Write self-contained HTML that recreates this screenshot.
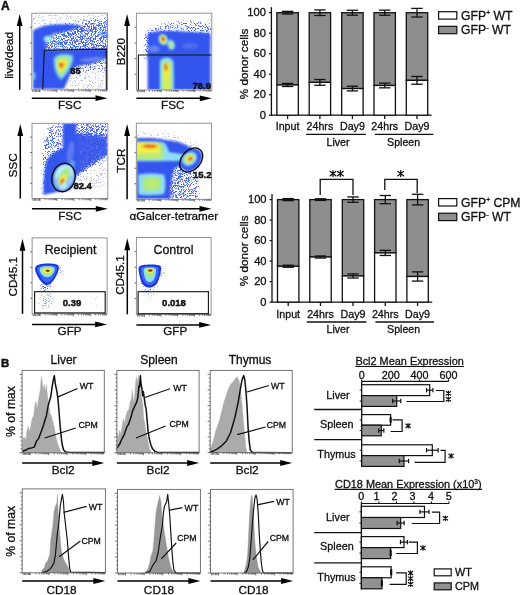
<!DOCTYPE html>
<html><head><meta charset="utf-8"><style>
html,body{margin:0;padding:0;background:#fff;}
body{width:520px;height:595px;overflow:hidden;}
svg{display:block;font-family:"Liberation Sans", sans-serif;will-change:transform;}
text{stroke:#111;stroke-width:0.3px;}
</style></head><body>
<svg width="520" height="595" viewBox="0 0 520 595">
<defs>
<filter id="bl1" x="-20%" y="-20%" width="140%" height="140%"><feGaussianBlur stdDeviation="0.9"/></filter>
<filter id="bl05" x="-20%" y="-20%" width="140%" height="140%"><feGaussianBlur stdDeviation="0.6"/></filter>
<filter id="bl2" x="-20%" y="-20%" width="140%" height="140%"><feGaussianBlur stdDeviation="1.3"/></filter>
<filter id="spk" x="0" y="0" width="520" height="595" filterUnits="userSpaceOnUse" color-interpolation-filters="sRGB">
 <feGaussianBlur in="SourceAlpha" stdDeviation="1.6" result="sa"/>
 <feTurbulence type="fractalNoise" baseFrequency="1.4" numOctaves="1" seed="7" result="t"/>
 <feColorMatrix in="t" type="matrix" values="0 0 0 0 0  0 0 0 0 0  0 0 0 0 0  3.5 0 0 0 -1.25" result="ta"/>
 <feComposite in="ta" in2="sa" operator="arithmetic" k1="0" k2="-4" k3="4" k4="0" result="m"/>
 <feFlood flood-color="#4a68ec"/>
 <feComposite in2="m" operator="in"/>
 <feGaussianBlur stdDeviation="0.45"/>
</filter>
<clipPath id="c1"><rect x="32.3" y="13.7" width="74.7" height="75.6"/></clipPath><clipPath id="c2"><rect x="136.9" y="13.7" width="74.4" height="75.8"/></clipPath><clipPath id="c3"><rect x="32.5" y="123.8" width="74.8" height="74.3"/></clipPath><clipPath id="c4"><rect x="136.8" y="123.7" width="74.19999999999999" height="75.10000000000001"/></clipPath><clipPath id="c5"><rect x="32.6" y="238.4" width="74.0" height="74.9"/></clipPath><clipPath id="c6"><rect x="136.9" y="238.0" width="73.69999999999999" height="75.80000000000001"/></clipPath>
</defs>
<rect width="520" height="595" fill="#fff"/>
<text x="1" y="9.8" font-size="12" text-anchor="start" font-weight="bold" style="stroke-width:0.45px" fill="#111">A</text>
<text x="1" y="366.9" font-size="11.5" text-anchor="start" font-weight="bold" style="stroke-width:0.45px" fill="#111">B</text>
<g clip-path="url(#c1)">
<g filter="url(#spk)"><path d="M32,14 L108,14 L108,52 L32,52 Z" fill="#000" fill-opacity="0.1"/><path d="M40,30 C55,24 80,20 108,19 L108,52 L40,52 Z" fill="#000" fill-opacity="0.3"/><path d="M44,40 C60,35 85,30 108,28 L108,52 L44,52 Z" fill="#000" fill-opacity="0.3"/><path d="M45,36 C60,30 75,27 90,26 L92,30 C78,31 62,34 47,40 Z" fill="#000" fill-opacity="0.4"/><path d="M52,43 C70,39 90,35 108,33 L108,38 C90,40 70,43 54,46 Z" fill="#000" fill-opacity="0.35"/><path d="M60,31 C75,27 92,23 108,20 L108,28 C92,30 76,33 62,36 Z" fill="#000" fill-opacity="0.45"/><path d="M70,62 C85,60 100,58 108,57 L108,90 L66,90 Z" fill="#000" fill-opacity="0.12"/><path d="M70,62 C85,60 100,58 108,57 L108,68 C95,70 82,72 72,74 Z" fill="#000" fill-opacity="0.25"/></g>
<g filter="url(#bl1)">
<path d="M33,31 C38,27 46,25 55,24.5 C66,24 76,24.5 84,26 C76,29 68,31 60,32.5 C52,34 48,37 46.5,42 L45.5,49.8 C62,49.5 90,49 108,49 L108,57.5 C102,60.5 95,63 88,64.5 C80,65.5 76,66 73,69 C70,75 67,82 64,89 L33,89 Z" fill="#3456ee"/>
</g>
<g filter="url(#bl2)">
<ellipse cx="92" cy="59.5" rx="12" ry="2.3" fill="#7f95f2" transform="rotate(-4 92 59.5)" opacity="0.7"/>
<ellipse cx="34" cy="76" rx="1.6" ry="4" fill="#8fdcf6" opacity="0.8"/>
</g>
<g filter="url(#bl1)">
<ellipse cx="48" cy="38.9" rx="4.4" ry="3.2" fill="#8fdcf6"/>
<ellipse cx="48" cy="39" rx="2.6" ry="1.8" fill="#b9ecf8"/>
<ellipse cx="54" cy="34" rx="3" ry="1.2" fill="#7f95f2" transform="rotate(-20 54 34)" opacity="0.8"/>
<path d="M53.5,58 C55.5,53.5 66,52.5 72.5,54.5 C75,56.5 73.5,62 70.5,68 C67.5,74 64,78.5 61,80.5 C58,78.5 55.5,74 54.5,70 C53.5,66 53,62 53.5,58 Z" fill="#5c9cf2"/>
<path d="M55,58.5 C56.5,55 65.5,54 71,55.8 C73,57.5 72,62 69.5,67.3 C67,72.5 63.8,76.5 61.2,78.3 C58.7,76.5 56.6,72.5 55.7,69.3 C54.8,65.8 54.6,61.8 55,58.5 Z" fill="#8fdcf6"/>
<path d="M56,59.5 C57.5,56 65,55.5 69.5,57 C71,58.5 70.5,62 68.5,66.5 C66,71 63.5,74.5 61.5,76.5 C59,74.5 57.2,71 56.3,68 C55.8,65 55.5,62 56,59.5 Z" fill="#a6e88a"/>
<path d="M57.8,61.5 C58.8,59 63.5,58.5 66.5,60 C67.8,61.5 67,64 65.7,66.8 C64.3,69.3 62.5,71.5 61,72.5 C59.6,71 58.7,69 58.2,67 C57.8,65 57.5,63 57.8,61.5 Z" fill="#f2ee4a"/>
<path d="M58.6,63.5 C59.5,62 62.8,62 64.5,63 C64.7,65 63.3,67.3 61.5,69.2 C60,67.8 59,66 58.6,63.5 Z" fill="#f09a2a"/>
<ellipse cx="60.8" cy="65.3" rx="1.3" ry="1.6" fill="#c8321c"/>
</g>
</g>
<rect x="31.8" y="13.2" width="75.7" height="76.6" fill="none" stroke="#888" stroke-width="0.9"/>
<line x1="19.7" y1="89.8" x2="19.7" y2="24.0" stroke="#000" stroke-width="1.5"/>
<polygon points="19.7,14.0 16.8,26.0 22.599999999999998,26.0" fill="#000"/>
<line x1="31.8" y1="98.2" x2="97.5" y2="98.2" stroke="#000" stroke-width="1.5"/>
<polygon points="107.5,98.2 95.5,95.3 95.5,101.10000000000001" fill="#000"/>
<text x="9.0" y="55.4" font-size="11.7" text-anchor="middle" transform="rotate(-90 9.0 55.4)" fill="#111" dominant-baseline="central">live/dead</text>
<text x="69.65" y="109.3" font-size="11.7" text-anchor="middle" fill="#111">FSC</text>
<line x1="30.0" y1="74.16734693877551" x2="31.8" y2="74.16734693877551" stroke="#555" stroke-width="0.9"/>
<line x1="30.0" y1="58.53469387755102" x2="31.8" y2="58.53469387755102" stroke="#555" stroke-width="0.9"/>
<line x1="30.0" y1="42.90204081632653" x2="31.8" y2="42.90204081632653" stroke="#555" stroke-width="0.9"/>
<line x1="30.0" y1="27.269387755102045" x2="31.8" y2="27.269387755102045" stroke="#555" stroke-width="0.9"/>
<path d="M32.80,89.8 l0,2.2 M34.10,89.8 l0,2.2 M35.40,89.8 l0,2.2 M36.70,89.8 l0,2.2 M38.00,89.8 l0,2.2 M39.30,89.8 l0,2.2 M39.80,89.8 l0,2.4 M44.89,89.8 l0,1.6 M47.88,89.8 l0,1.6 M49.99,89.8 l0,1.6 M51.63,89.8 l0,1.6 M52.97,89.8 l0,1.6 M54.10,89.8 l0,1.6 M55.08,89.8 l0,1.6 M55.95,89.8 l0,1.6 M56.72,89.8 l0,2.4 M61.82,89.8 l0,1.6 M64.80,89.8 l0,1.6 M66.91,89.8 l0,1.6 M68.56,89.8 l0,1.6 M69.90,89.8 l0,1.6 M71.03,89.8 l0,1.6 M72.01,89.8 l0,1.6 M72.88,89.8 l0,1.6 M73.65,89.8 l0,2.4 M78.74,89.8 l0,1.6 M81.73,89.8 l0,1.6 M83.84,89.8 l0,1.6 M85.48,89.8 l0,1.6 M86.82,89.8 l0,1.6 M87.95,89.8 l0,1.6 M88.93,89.8 l0,1.6 M89.80,89.8 l0,1.6 M90.58,89.8 l0,2.4 M95.67,89.8 l0,1.6 M98.65,89.8 l0,1.6 M100.76,89.8 l0,1.6 M102.41,89.8 l0,1.6 M103.75,89.8 l0,1.6 M104.88,89.8 l0,1.6 M105.86,89.8 l0,1.6 M106.73,89.8 l0,1.6 " stroke="#444" stroke-width="0.7" fill="none"/>
<path d="M42.7,89.6 L44.3,50.2 L106.3,49.1 L106.3,89.6" fill="none" stroke="#111" stroke-width="1.1"/>
<text x="70.3" y="74.3" font-size="9.5" text-anchor="start" font-weight="bold" style="stroke-width:0.45px" fill="#111">85</text>
<g clip-path="url(#c2)">
<g filter="url(#spk)"><path d="M146,33 C150,26 165,22 185,21 C198,21 206,23 212,25 L212,40 L146,40 Z" fill="#000" fill-opacity="0.3"/><path d="M140,40 L212,14 L212,40 Z" fill="#000" fill-opacity="0.08"/><path d="M145,36 L160,36 L160,60 L145,60 Z" fill="#000" fill-opacity="0.5"/></g>
<g filter="url(#bl2)">
<path d="M147.6,33.5 C155,31 165,30.5 175,31 C188,31.5 200,32 210.5,33.5 L210.5,90 L147.6,90 Z" fill="#3456ee"/>
<ellipse cx="154" cy="49" rx="5.5" ry="3.5" fill="#7f95f2" opacity="0.7"/>
<ellipse cx="190" cy="46" rx="8" ry="3" fill="#7f95f2" opacity="0.35"/>
</g>
<g filter="url(#bl1)">
<ellipse cx="163.2" cy="39.6" rx="4.6" ry="5.6" fill="#8fdcf6" transform="rotate(-20 163.2 39.6)"/>
<ellipse cx="163.2" cy="39.5" rx="3.6" ry="4.6" fill="#a6e88a" transform="rotate(-20 163.2 39.5)"/>
<ellipse cx="163.2" cy="39.3" rx="2.7" ry="3.7" fill="#f2ee4a" transform="rotate(-20 163.2 39.3)"/>
<ellipse cx="163.1" cy="39.1" rx="1.9" ry="2.9" fill="#f09a2a" transform="rotate(-20 163.1 39.1)"/>
<ellipse cx="163.1" cy="39.0" rx="1.1" ry="1.9" fill="#c8321c" transform="rotate(-20 163.1 39.0)"/>
<ellipse cx="171.2" cy="44.8" rx="3.7" ry="5.1" fill="#8fdcf6" transform="rotate(-15 171.2 44.8)"/>
<ellipse cx="171.2" cy="45.0" rx="2.3" ry="3.4" fill="#a6e88a" transform="rotate(-15 171.2 45.0)"/>
<ellipse cx="171.2" cy="45.2" rx="1.1" ry="1.7" fill="#d0ec70" transform="rotate(-15 171.2 45.2)"/>
<path d="M159.8,91 L159.8,63 C159.8,55.5 173.6,55.5 173.6,63 L174,91 Z" fill="#8fdcf6"/>
<path d="M161.8,91 L161.8,64.5 C161.8,59 171.4,59 171.4,64.5 L172,91 Z" fill="#a6e88a"/>
<path d="M163.3,90 L163.4,66 C163.4,61.5 170.2,61.5 170.2,66 L170.6,90 Z" fill="#d4ee58"/>
<path d="M164.2,78 L164.2,66 C164.2,62.5 168.8,62.5 168.8,66 L168.8,78 Z" fill="#f2e640"/>
<ellipse cx="165.8" cy="67.2" rx="1.7" ry="4.0" fill="#f09a2a"/>
<ellipse cx="165.8" cy="66.8" rx="0.9" ry="2.4" fill="#c8321c"/>
</g>
</g>
<rect x="136.4" y="13.2" width="75.4" height="76.8" fill="none" stroke="#888" stroke-width="0.9"/>
<line x1="127.1" y1="90" x2="127.1" y2="24.0" stroke="#000" stroke-width="1.5"/>
<polygon points="127.1,14.0 124.19999999999999,26.0 130.0,26.0" fill="#000"/>
<line x1="136.4" y1="98.3" x2="201.8" y2="98.3" stroke="#000" stroke-width="1.5"/>
<polygon points="211.8,98.3 199.8,95.39999999999999 199.8,101.2" fill="#000"/>
<text x="120.2" y="51.7" font-size="11.7" text-anchor="middle" transform="rotate(-90 120.2 51.7)" fill="#111" dominant-baseline="central">B220</text>
<text x="172.7" y="109.3" font-size="11.7" text-anchor="middle" fill="#111">FSC</text>
<line x1="134.6" y1="74.3265306122449" x2="136.4" y2="74.3265306122449" stroke="#555" stroke-width="0.9"/>
<line x1="134.6" y1="58.653061224489804" x2="136.4" y2="58.653061224489804" stroke="#555" stroke-width="0.9"/>
<line x1="134.6" y1="42.9795918367347" x2="136.4" y2="42.9795918367347" stroke="#555" stroke-width="0.9"/>
<line x1="134.6" y1="27.3061224489796" x2="136.4" y2="27.3061224489796" stroke="#555" stroke-width="0.9"/>
<path d="M137.40,90 l0,2.2 M138.70,90 l0,2.2 M140.00,90 l0,2.2 M141.30,90 l0,2.2 M142.60,90 l0,2.2 M143.90,90 l0,2.2 M144.40,90 l0,2.4 M149.47,90 l0,1.6 M152.44,90 l0,1.6 M154.54,90 l0,1.6 M156.18,90 l0,1.6 M157.51,90 l0,1.6 M158.64,90 l0,1.6 M159.62,90 l0,1.6 M160.48,90 l0,1.6 M161.25,90 l0,2.4 M166.32,90 l0,1.6 M169.29,90 l0,1.6 M171.39,90 l0,1.6 M173.03,90 l0,1.6 M174.36,90 l0,1.6 M175.49,90 l0,1.6 M176.47,90 l0,1.6 M177.33,90 l0,1.6 M178.10,90 l0,2.4 M183.17,90 l0,1.6 M186.14,90 l0,1.6 M188.24,90 l0,1.6 M189.88,90 l0,1.6 M191.21,90 l0,1.6 M192.34,90 l0,1.6 M193.32,90 l0,1.6 M194.18,90 l0,1.6 M194.95,90 l0,2.4 M200.02,90 l0,1.6 M202.99,90 l0,1.6 M205.09,90 l0,1.6 M206.73,90 l0,1.6 M208.06,90 l0,1.6 M209.19,90 l0,1.6 M210.17,90 l0,1.6 M211.03,90 l0,1.6 " stroke="#444" stroke-width="0.7" fill="none"/>
<path d="M138.4,89.8 L138.4,55 L211.5,55" fill="none" stroke="#111" stroke-width="1.1"/>
<text x="211" y="89.4" font-size="9.5" text-anchor="end" font-weight="bold" style="stroke-width:0.45px" fill="#111">76.9</text>
<g clip-path="url(#c3)">
<g filter="url(#spk)"><path d="M42,196 L43,150 C44,135 48,126 56,124 L66,124 L66,165 Z" fill="#000" fill-opacity="0.38"/><path d="M74,123 L108,123 L108,142 L76,142 Z" fill="#000" fill-opacity="0.5"/><path d="M74,123 L108,123 L108,132 L76,132 Z" fill="#000" fill-opacity="0.2"/><path d="M74,132 C85,133 98,135 108,136 L108,156 C98,162 88,168 78,176 L74,176 Z" fill="#000" fill-opacity="0.85"/><path d="M74,178 C85,170 98,163 108,160 L108,185 L74,190 Z" fill="#000" fill-opacity="0.12"/><path d="M48,124 L58,124 L52,150 L46,150 Z" fill="#000" fill-opacity="0.2"/></g>
<g filter="url(#bl2)">
<path d="M74,134 C85,134 98,136 107,138 L107,154 C98,160 88,166 78,174 L74,174 Z" fill="#3556ea" opacity="0.85"/>
</g>
<g filter="url(#bl1)">
<path d="M43.3,194.7 C43.5,180 44,168 47,160 C52,152 58,150 63,148 L63,123 L76.5,123 C76,130 76,138 77,142 C79,150 80,160 78,172 C75,180 73,186 70,190 C62,191 52,193 43.3,194.7 Z" fill="#3456ee"/>
</g>
<g filter="url(#bl2)">
<ellipse cx="70.5" cy="152" rx="3.5" ry="11" fill="#7f95f2" transform="rotate(8 70.5 152)" opacity="0.55"/>
<ellipse cx="72" cy="165" rx="3" ry="5" fill="#8fdcf6" transform="rotate(20 72 165)" opacity="0.5"/>
</g>
<g filter="url(#bl1)">
<ellipse cx="64" cy="177" rx="10" ry="13.3" fill="#b9ecf8" transform="rotate(16 64 177)"/>
<ellipse cx="57.5" cy="183.5" rx="4.5" ry="7" fill="#6a9cf2" transform="rotate(30 57.5 183.5)" opacity="0.55"/>
<ellipse cx="69.5" cy="181" rx="2.5" ry="7" fill="#6a9cf2" transform="rotate(20 69.5 181)" opacity="0.45"/>
<ellipse cx="64" cy="176.5" rx="4.6" ry="9.5" fill="#a6e88a" transform="rotate(30 64 176.5)"/>
<ellipse cx="62.8" cy="179.5" rx="3.0" ry="5.6" fill="#f2ee4a" transform="rotate(30 62.8 179.5)"/>
<ellipse cx="62.2" cy="181" rx="1.8" ry="3.3" fill="#f09a2a" transform="rotate(30 62.2 181)"/>
<ellipse cx="62.1" cy="181.3" rx="1.0" ry="2.0" fill="#c8321c" transform="rotate(30 62.1 181.3)"/>
</g>
</g>
<rect x="32" y="123.3" width="75.8" height="75.3" fill="none" stroke="#888" stroke-width="0.9"/>
<line x1="20.3" y1="198.6" x2="20.3" y2="134.1" stroke="#000" stroke-width="1.5"/>
<polygon points="20.3,124.1 17.400000000000002,136.1 23.2,136.1" fill="#000"/>
<line x1="32" y1="208.8" x2="97.8" y2="208.8" stroke="#000" stroke-width="1.5"/>
<polygon points="107.8,208.8 95.8,205.9 95.8,211.70000000000002" fill="#000"/>
<text x="12.2" y="165.4" font-size="11.7" text-anchor="middle" transform="rotate(-90 12.2 165.4)" fill="#111" dominant-baseline="central">SSC</text>
<text x="69.9" y="219.6" font-size="11.7" text-anchor="middle" fill="#111">FSC</text>
<line x1="30.2" y1="183.23265306122448" x2="32" y2="183.23265306122448" stroke="#555" stroke-width="0.9"/>
<line x1="30.2" y1="167.86530612244897" x2="32" y2="167.86530612244897" stroke="#555" stroke-width="0.9"/>
<line x1="30.2" y1="152.49795918367346" x2="32" y2="152.49795918367346" stroke="#555" stroke-width="0.9"/>
<line x1="30.2" y1="137.13061224489797" x2="32" y2="137.13061224489797" stroke="#555" stroke-width="0.9"/>
<path d="M33.00,198.6 l0,2.2 M34.30,198.6 l0,2.2 M35.60,198.6 l0,2.2 M36.90,198.6 l0,2.2 M38.20,198.6 l0,2.2 M39.50,198.6 l0,2.2 M40.00,198.6 l0,2.4 M45.10,198.6 l0,1.6 M48.09,198.6 l0,1.6 M50.20,198.6 l0,1.6 M51.85,198.6 l0,1.6 M53.19,198.6 l0,1.6 M54.32,198.6 l0,1.6 M55.31,198.6 l0,1.6 M56.17,198.6 l0,1.6 M56.95,198.6 l0,2.4 M62.05,198.6 l0,1.6 M65.04,198.6 l0,1.6 M67.15,198.6 l0,1.6 M68.80,198.6 l0,1.6 M70.14,198.6 l0,1.6 M71.27,198.6 l0,1.6 M72.26,198.6 l0,1.6 M73.12,198.6 l0,1.6 M73.90,198.6 l0,2.4 M79.00,198.6 l0,1.6 M81.99,198.6 l0,1.6 M84.10,198.6 l0,1.6 M85.75,198.6 l0,1.6 M87.09,198.6 l0,1.6 M88.22,198.6 l0,1.6 M89.21,198.6 l0,1.6 M90.07,198.6 l0,1.6 M90.85,198.6 l0,2.4 M95.95,198.6 l0,1.6 M98.94,198.6 l0,1.6 M101.05,198.6 l0,1.6 M102.70,198.6 l0,1.6 M104.04,198.6 l0,1.6 M105.17,198.6 l0,1.6 M106.16,198.6 l0,1.6 M107.02,198.6 l0,1.6 " stroke="#444" stroke-width="0.7" fill="none"/>
<ellipse cx="63.5" cy="177.5" rx="11.5" ry="14.4" fill="none" transform="rotate(14 63.5 177.5)" stroke="#0a0a14" stroke-width="1.3"/>
<text x="73.4" y="188.9" font-size="9.5" text-anchor="start" font-weight="bold" style="stroke-width:0.45px" fill="#111">82.4</text>
<g clip-path="url(#c4)">
<g filter="url(#spk)"><path d="M160,199.3 C161,185 166,170 176,165 C188,162 195,168 198,182 L199,199.3 Z" fill="#000" fill-opacity="0.4"/><path d="M166,199.3 C167,188 170,176 178,170 C186,168 190,175 191,185 L191,199.3 Z" fill="#000" fill-opacity="0.3"/><path d="M136,132 C160,130 180,134 200,146 L200,152 L136,140 Z" fill="#000" fill-opacity="0.12"/></g>
<g filter="url(#bl2)">
<path d="M136.3,138.2 C145,137.8 155,138 163,139.5 C170,140.5 176,141 181,143 C187,145 192,148 196,151 L194,167 C188,168 182,166 176,167 C172,172 170,184 170.5,199.3 L136.3,199.3 Z" fill="#3456ee"/>
</g>
<g filter="url(#bl1)">
<path d="M136,141.5 C148,141 158,141 164,142.5 C167,145 168,149 169,152 C174,153 180,153.5 186,155 L185,160.5 C178,161 170,161 164,161 C155,161.3 145,161.3 136,161 Z" fill="#8fdcf6"/>
<path d="M136,142.3 C146,141.8 155,141.8 161,143 C164,146 165,152 163.5,159.6 C155,160.1 145,160.1 136,159.8 Z" fill="#a6e88a"/>
<path d="M136,150 C146,150 155,150 162,151 C163,154 163,157 162,158.5 C155,159 145,159 136,158.8 Z" fill="#c6ee70" opacity="0.6"/>
<path d="M136,142.8 C146,142.3 154,142.3 158.5,143.8 C160.5,146 160.5,150 158.5,153 C150,153.6 143,153.6 136,153.2 Z" fill="#f2ee4a"/>
<ellipse cx="150" cy="146.2" rx="8.5" ry="2.2" fill="#f09a2a"/>
<ellipse cx="150" cy="146.2" rx="6" ry="1.2" fill="#c8321c" opacity="0.55"/>
<path d="M138,174.5 C146,173 157,173 164,174.5 C166,180 165.8,188 164,194 C157,195.5 146,195.5 138.5,194.5 Z" fill="#8fdcf6"/>
<path d="M142.5,177.5 C149,176.5 156,176.5 160.5,177.8 C161.8,182 161.5,186.5 160,190.5 C155,191.3 148,191.3 142.5,190.8 Z" fill="#a6e88a"/>
<ellipse cx="152" cy="183.8" rx="6.5" ry="4.5" fill="#c3ec6a" opacity="0.7"/>
<ellipse cx="191.4" cy="160" rx="9.2" ry="12.6" fill="#3456ee" transform="rotate(42 191.4 160)"/>
<ellipse cx="189.6" cy="158.8" rx="6.2" ry="7.8" fill="#8fdcf6" transform="rotate(50 189.6 158.8)"/>
<ellipse cx="189.4" cy="158.6" rx="4.6" ry="6.0" fill="#a6e88a" transform="rotate(50 189.4 158.6)"/>
<ellipse cx="189.8" cy="158.6" rx="3.2" ry="4.3" fill="#f2ee4a" transform="rotate(55 189.8 158.6)"/>
<ellipse cx="190.3" cy="158.7" rx="2.0" ry="2.9" fill="#f09a2a" transform="rotate(60 190.3 158.7)"/>
<ellipse cx="190.4" cy="158.8" rx="1.2" ry="1.9" fill="#c8321c" transform="rotate(60 190.4 158.8)"/>
</g>
</g>
<rect x="136.3" y="123.2" width="75.19999999999999" height="76.10000000000001" fill="none" stroke="#888" stroke-width="0.9"/>
<line x1="127.1" y1="199.3" x2="127.1" y2="134.0" stroke="#000" stroke-width="1.5"/>
<polygon points="127.1,124.0 124.19999999999999,136.0 130.0,136.0" fill="#000"/>
<line x1="136.3" y1="208.8" x2="201.5" y2="208.8" stroke="#000" stroke-width="1.5"/>
<polygon points="211.5,208.8 199.5,205.9 199.5,211.70000000000002" fill="#000"/>
<text x="120.2" y="160.5" font-size="11.7" text-anchor="middle" transform="rotate(-90 120.2 160.5)" fill="#111" dominant-baseline="central">TCR</text>
<text x="173.9" y="219.6" font-size="11.7" text-anchor="middle" fill="#111">&#945;Galcer-tetramer</text>
<line x1="134.5" y1="183.76938775510206" x2="136.3" y2="183.76938775510206" stroke="#555" stroke-width="0.9"/>
<line x1="134.5" y1="168.2387755102041" x2="136.3" y2="168.2387755102041" stroke="#555" stroke-width="0.9"/>
<line x1="134.5" y1="152.70816326530613" x2="136.3" y2="152.70816326530613" stroke="#555" stroke-width="0.9"/>
<line x1="134.5" y1="137.17755102040817" x2="136.3" y2="137.17755102040817" stroke="#555" stroke-width="0.9"/>
<path d="M137.30,199.3 l0,2.2 M138.60,199.3 l0,2.2 M139.90,199.3 l0,2.2 M141.20,199.3 l0,2.2 M142.50,199.3 l0,2.2 M143.80,199.3 l0,2.2 M144.30,199.3 l0,2.4 M149.36,199.3 l0,1.6 M152.32,199.3 l0,1.6 M154.41,199.3 l0,1.6 M156.04,199.3 l0,1.6 M157.37,199.3 l0,1.6 M158.50,199.3 l0,1.6 M159.47,199.3 l0,1.6 M160.33,199.3 l0,1.6 M161.10,199.3 l0,2.4 M166.16,199.3 l0,1.6 M169.12,199.3 l0,1.6 M171.21,199.3 l0,1.6 M172.84,199.3 l0,1.6 M174.17,199.3 l0,1.6 M175.30,199.3 l0,1.6 M176.27,199.3 l0,1.6 M177.13,199.3 l0,1.6 M177.90,199.3 l0,2.4 M182.96,199.3 l0,1.6 M185.92,199.3 l0,1.6 M188.01,199.3 l0,1.6 M189.64,199.3 l0,1.6 M190.97,199.3 l0,1.6 M192.10,199.3 l0,1.6 M193.07,199.3 l0,1.6 M193.93,199.3 l0,1.6 M194.70,199.3 l0,2.4 M199.76,199.3 l0,1.6 M202.72,199.3 l0,1.6 M204.81,199.3 l0,1.6 M206.44,199.3 l0,1.6 M207.77,199.3 l0,1.6 M208.90,199.3 l0,1.6 M209.87,199.3 l0,1.6 M210.73,199.3 l0,1.6 " stroke="#444" stroke-width="0.7" fill="none"/>
<ellipse cx="191.2" cy="160" rx="9.6" ry="13.6" fill="none" transform="rotate(41 191.2 160)" stroke="#0a0a14" stroke-width="1.3"/>
<text x="193.0" y="177.6" font-size="9.5" text-anchor="start" font-weight="bold" style="stroke-width:0.45px" fill="#111">15.2</text>
<g clip-path="url(#c5)">
<g filter="url(#spk)"><ellipse cx="46" cy="300" rx="7" ry="10" fill="#000" fill-opacity="0.16"/><ellipse cx="96" cy="302" rx="3" ry="7" fill="#000" fill-opacity="0.1"/><ellipse cx="46" cy="286" rx="6" ry="5" fill="#000" fill-opacity="0.28"/><ellipse cx="60" cy="270" rx="3" ry="6" fill="#000" fill-opacity="0.15"/></g>
<g filter="url(#bl05)">
<path d="M35.1,268 C35.8,264.5 42,263.8 47,263.6 C53,263.4 58.2,264 58.8,266.5 C59.2,270 57.2,275 54.2,279.5 C51.7,283 49,285.2 46.5,285.2 C43,284.2 39.8,280.5 37.8,276.5 C35.8,273 34.8,270.5 35.1,268 Z" fill="#1a36d8"/>
<path d="M37,268.2 C37.8,265.8 43,265.3 47.2,265.2 C52.5,265.1 56.5,265.6 57,267.5 C57.3,270.5 55.7,274.5 53.2,278 C51,281 48.8,282.8 46.8,282.8 C44,282 41.5,279 40,276 C38,272.8 36.8,270.5 37,268.2 Z" fill="#3a66ee"/>
<path d="M39.5,269 C40.5,266.5 44,266.2 47.5,266.2 C51.5,266.2 54.5,266.8 54.7,268.8 C54.8,271.5 53,274.5 50.5,276.5 C48.5,277.5 46,277.5 44,276.5 C41.5,274.8 39.8,272 39.5,269 Z" fill="#8fdcf6"/>
<ellipse cx="47.3" cy="270.9" rx="6.2" ry="3.9" fill="#a6e88a"/>
<ellipse cx="47.5" cy="270.8" rx="4.3" ry="2.6" fill="#f2ee4a"/>
<ellipse cx="47.7" cy="270.8" rx="2.6" ry="1.4" fill="#f09a2a"/>
<ellipse cx="47.7" cy="270.8" rx="1.7" ry="1.0" fill="#7a2a06"/>
</g>
</g>
<rect x="32.1" y="237.9" width="75.0" height="75.9" fill="none" stroke="#888" stroke-width="0.9"/>
<line x1="22.5" y1="313.8" x2="22.5" y2="248.70000000000002" stroke="#000" stroke-width="1.5"/>
<polygon points="22.5,238.70000000000002 19.6,250.70000000000002 25.4,250.70000000000002" fill="#000"/>
<line x1="32.1" y1="324.4" x2="97.1" y2="324.4" stroke="#000" stroke-width="1.5"/>
<polygon points="107.1,324.4 95.1,321.5 95.1,327.29999999999995" fill="#000"/>
<text x="12.9" y="276.7" font-size="11.7" text-anchor="middle" transform="rotate(-90 12.9 276.7)" fill="#111" dominant-baseline="central">CD45.1</text>
<text x="69.6" y="334.6" font-size="11.7" text-anchor="middle" fill="#111">GFP</text>
<line x1="30.3" y1="298.31020408163266" x2="32.1" y2="298.31020408163266" stroke="#555" stroke-width="0.9"/>
<line x1="30.3" y1="282.8204081632653" x2="32.1" y2="282.8204081632653" stroke="#555" stroke-width="0.9"/>
<line x1="30.3" y1="267.33061224489796" x2="32.1" y2="267.33061224489796" stroke="#555" stroke-width="0.9"/>
<line x1="30.3" y1="251.84081632653061" x2="32.1" y2="251.84081632653061" stroke="#555" stroke-width="0.9"/>
<path d="M33.10,313.8 l0,2.2 M34.40,313.8 l0,2.2 M35.70,313.8 l0,2.2 M37.00,313.8 l0,2.2 M38.30,313.8 l0,2.2 M39.60,313.8 l0,2.2 M40.10,313.8 l0,2.4 M45.14,313.8 l0,1.6 M48.09,313.8 l0,1.6 M50.18,313.8 l0,1.6 M51.81,313.8 l0,1.6 M53.13,313.8 l0,1.6 M54.26,313.8 l0,1.6 M55.23,313.8 l0,1.6 M56.08,313.8 l0,1.6 M56.85,313.8 l0,2.4 M61.89,313.8 l0,1.6 M64.84,313.8 l0,1.6 M66.93,313.8 l0,1.6 M68.56,313.8 l0,1.6 M69.88,313.8 l0,1.6 M71.01,313.8 l0,1.6 M71.98,313.8 l0,1.6 M72.83,313.8 l0,1.6 M73.60,313.8 l0,2.4 M78.64,313.8 l0,1.6 M81.59,313.8 l0,1.6 M83.68,313.8 l0,1.6 M85.31,313.8 l0,1.6 M86.63,313.8 l0,1.6 M87.76,313.8 l0,1.6 M88.73,313.8 l0,1.6 M89.58,313.8 l0,1.6 M90.35,313.8 l0,2.4 M95.39,313.8 l0,1.6 M98.34,313.8 l0,1.6 M100.43,313.8 l0,1.6 M102.06,313.8 l0,1.6 M103.38,313.8 l0,1.6 M104.51,313.8 l0,1.6 M105.48,313.8 l0,1.6 M106.33,313.8 l0,1.6 " stroke="#444" stroke-width="0.7" fill="none"/>
<rect x="34.6" y="291.7" width="70.6" height="21.2" fill="none" stroke="#111" stroke-width="1.1"/>
<text x="72" y="306.3" font-size="9.5" text-anchor="middle" font-weight="bold" style="stroke-width:0.45px" fill="#111">0.39</text>
<text x="70.5" y="254.2" font-size="12.4" text-anchor="middle" fill="#111">Recipient</text>
<g clip-path="url(#c6)">
<g filter="url(#spk)"><ellipse cx="149" cy="285" rx="8" ry="6" fill="#000" fill-opacity="0.35"/><ellipse cx="162" cy="272" rx="3" ry="6" fill="#000" fill-opacity="0.2"/><ellipse cx="150" cy="295" rx="6" ry="5" fill="#000" fill-opacity="0.08"/></g>
<g filter="url(#bl05)">
<path d="M138.5,268 C139,265 145,264.5 150,264.5 C155.5,264.5 160.5,264.8 161,267 C161.3,270.5 160,276.5 158,281.5 C156.3,285.5 152.5,287.6 149.2,287.6 C145.5,287.6 142.8,285.5 141.2,281.5 C139.6,276.5 138.4,271 138.5,268 Z" fill="#1a36d8"/>
<path d="M140.5,268.5 C141,266.5 146,266.2 150,266.2 C154.5,266.2 158.5,266.5 158.8,268.3 C159,271.5 158,276.5 156.3,280.5 C154.8,283.6 152,285.2 149.3,285.2 C146.5,285.2 144.3,283.6 143,280.5 C141.5,276.5 140.4,271.5 140.5,268.5 Z" fill="#3a66ee"/>
<path d="M143.5,269 C144,267.8 147,267.6 150,267.6 C153,267.6 155.8,267.8 156,269 C156.2,272 155.3,276 154,279 C152.8,281.2 151,282.2 149.5,282.2 C148,282.2 146.3,281.2 145.3,279 C144.2,276 143.4,272 143.5,269 Z" fill="#8fdcf6"/>
<path d="M145.8,269.2 C146.3,268.5 148,268.4 150,268.4 C152,268.4 153.6,268.5 153.9,269.2 C154,271.5 153.4,274.5 152.4,276.5 C151.5,277.6 148.5,277.6 147.5,276.5 C146.5,274.5 145.8,271.5 145.8,269.2 Z" fill="#a6e88a"/>
<ellipse cx="150" cy="270.6" rx="3.8" ry="2.3" fill="#f2ee4a"/>
<ellipse cx="150.2" cy="270.5" rx="2.8" ry="1.4" fill="#d48a10"/>
<ellipse cx="150.2" cy="270.5" rx="1.8" ry="0.9" fill="#8a3a06"/>
</g>
</g>
<rect x="136.4" y="237.5" width="74.69999999999999" height="76.80000000000001" fill="none" stroke="#888" stroke-width="0.9"/>
<line x1="127.3" y1="314.3" x2="127.3" y2="248.3" stroke="#000" stroke-width="1.5"/>
<polygon points="127.3,238.3 124.39999999999999,250.3 130.2,250.3" fill="#000"/>
<line x1="136.4" y1="324.9" x2="201.1" y2="324.9" stroke="#000" stroke-width="1.5"/>
<polygon points="211.1,324.9 199.1,322.0 199.1,327.79999999999995" fill="#000"/>
<text x="119.5" y="275.0" font-size="11.7" text-anchor="middle" transform="rotate(-90 119.5 275.0)" fill="#111" dominant-baseline="central">CD45.1</text>
<text x="175.2" y="335.2" font-size="11.7" text-anchor="middle" fill="#111">GFP</text>
<line x1="134.6" y1="298.6265306122449" x2="136.4" y2="298.6265306122449" stroke="#555" stroke-width="0.9"/>
<line x1="134.6" y1="282.95306122448983" x2="136.4" y2="282.95306122448983" stroke="#555" stroke-width="0.9"/>
<line x1="134.6" y1="267.2795918367347" x2="136.4" y2="267.2795918367347" stroke="#555" stroke-width="0.9"/>
<line x1="134.6" y1="251.6061224489796" x2="136.4" y2="251.6061224489796" stroke="#555" stroke-width="0.9"/>
<path d="M137.40,314.3 l0,2.2 M138.70,314.3 l0,2.2 M140.00,314.3 l0,2.2 M141.30,314.3 l0,2.2 M142.60,314.3 l0,2.2 M143.90,314.3 l0,2.2 M144.40,314.3 l0,2.4 M149.42,314.3 l0,1.6 M152.36,314.3 l0,1.6 M154.44,314.3 l0,1.6 M156.06,314.3 l0,1.6 M157.38,314.3 l0,1.6 M158.49,314.3 l0,1.6 M159.46,314.3 l0,1.6 M160.31,314.3 l0,1.6 M161.07,314.3 l0,2.4 M166.09,314.3 l0,1.6 M169.03,314.3 l0,1.6 M171.11,314.3 l0,1.6 M172.73,314.3 l0,1.6 M174.05,314.3 l0,1.6 M175.17,314.3 l0,1.6 M176.13,314.3 l0,1.6 M176.99,314.3 l0,1.6 M177.75,314.3 l0,2.4 M182.77,314.3 l0,1.6 M185.71,314.3 l0,1.6 M187.79,314.3 l0,1.6 M189.41,314.3 l0,1.6 M190.73,314.3 l0,1.6 M191.84,314.3 l0,1.6 M192.81,314.3 l0,1.6 M193.66,314.3 l0,1.6 M194.43,314.3 l0,2.4 M199.44,314.3 l0,1.6 M202.38,314.3 l0,1.6 M204.46,314.3 l0,1.6 M206.08,314.3 l0,1.6 M207.40,314.3 l0,1.6 M208.52,314.3 l0,1.6 M209.48,314.3 l0,1.6 M210.34,314.3 l0,1.6 " stroke="#444" stroke-width="0.7" fill="none"/>
<rect x="138.1" y="291.7" width="70.3" height="22" fill="none" stroke="#111" stroke-width="1.1"/>
<text x="174" y="305.8" font-size="9.5" text-anchor="middle" font-weight="bold" style="stroke-width:0.45px" fill="#111">0.018</text>
<text x="173.5" y="254.2" font-size="12.4" text-anchor="middle" fill="#111">Control</text>
<line x1="271.4" y1="7.200000000000017" x2="271.4" y2="115.8" stroke="#111" stroke-width="1.3"/>
<line x1="269.0" y1="115.2" x2="271.4" y2="115.2" stroke="#111" stroke-width="1.2"/>
<text x="266.0" y="118.60000000000001" font-size="11.2" text-anchor="end" fill="#111">0</text>
<line x1="269.0" y1="94.7" x2="271.4" y2="94.7" stroke="#111" stroke-width="1.2"/>
<text x="266.0" y="98.10000000000001" font-size="11.2" text-anchor="end" fill="#111">20</text>
<line x1="269.0" y1="74.2" x2="271.4" y2="74.2" stroke="#111" stroke-width="1.2"/>
<text x="266.0" y="77.60000000000001" font-size="11.2" text-anchor="end" fill="#111">40</text>
<line x1="269.0" y1="53.70000000000001" x2="271.4" y2="53.70000000000001" stroke="#111" stroke-width="1.2"/>
<text x="266.0" y="57.10000000000001" font-size="11.2" text-anchor="end" fill="#111">60</text>
<line x1="269.0" y1="33.2" x2="271.4" y2="33.2" stroke="#111" stroke-width="1.2"/>
<text x="266.0" y="36.6" font-size="11.2" text-anchor="end" fill="#111">80</text>
<line x1="269.0" y1="12.700000000000017" x2="271.4" y2="12.700000000000017" stroke="#111" stroke-width="1.2"/>
<text x="266.0" y="16.100000000000016" font-size="11.2" text-anchor="end" fill="#111">100</text>
<line x1="271.4" y1="115.2" x2="431.6" y2="115.2" stroke="#111" stroke-width="1.3"/>
<line x1="287.6" y1="115.2" x2="287.6" y2="119.10000000000001" stroke="#111" stroke-width="1.3"/>
<rect x="276.90000000000003" y="12.700000000000017" width="21.4" height="72.26249999999999" fill="#8e8e8e" stroke="#111" stroke-width="1.3"/>
<rect x="276.90000000000003" y="84.9625" width="21.4" height="30.237499999999997" fill="#fff" stroke="#111" stroke-width="1.3"/>
<line x1="287.6" y1="83.42500000000001" x2="287.6" y2="86.5" stroke="#111" stroke-width="1.3"/>
<line x1="281.90000000000003" y1="83.42500000000001" x2="293.3" y2="83.42500000000001" stroke="#111" stroke-width="1.3"/>
<line x1="281.90000000000003" y1="86.5" x2="293.3" y2="86.5" stroke="#111" stroke-width="1.3"/>
<line x1="287.6" y1="11.367500000000021" x2="287.6" y2="14.032500000000013" stroke="#111" stroke-width="1.3"/>
<line x1="281.90000000000003" y1="11.367500000000021" x2="293.3" y2="11.367500000000021" stroke="#111" stroke-width="1.3"/>
<line x1="281.90000000000003" y1="14.032500000000013" x2="293.3" y2="14.032500000000013" stroke="#111" stroke-width="1.3"/>
<line x1="319.9" y1="115.2" x2="319.9" y2="119.10000000000001" stroke="#111" stroke-width="1.3"/>
<rect x="309.2" y="12.700000000000017" width="21.4" height="69.69999999999999" fill="#8e8e8e" stroke="#111" stroke-width="1.3"/>
<rect x="309.2" y="82.4" width="21.4" height="32.8" fill="#fff" stroke="#111" stroke-width="1.3"/>
<line x1="319.9" y1="79.53" x2="319.9" y2="85.27000000000001" stroke="#111" stroke-width="1.3"/>
<line x1="314.2" y1="79.53" x2="325.59999999999997" y2="79.53" stroke="#111" stroke-width="1.3"/>
<line x1="314.2" y1="85.27000000000001" x2="325.59999999999997" y2="85.27000000000001" stroke="#111" stroke-width="1.3"/>
<line x1="319.9" y1="9.932500000000005" x2="319.9" y2="15.467500000000015" stroke="#111" stroke-width="1.3"/>
<line x1="314.2" y1="9.932500000000005" x2="325.59999999999997" y2="9.932500000000005" stroke="#111" stroke-width="1.3"/>
<line x1="314.2" y1="15.467500000000015" x2="325.59999999999997" y2="15.467500000000015" stroke="#111" stroke-width="1.3"/>
<line x1="352.4" y1="115.2" x2="352.4" y2="119.10000000000001" stroke="#111" stroke-width="1.3"/>
<rect x="341.7" y="12.700000000000017" width="21.4" height="75.85" fill="#8e8e8e" stroke="#111" stroke-width="1.3"/>
<rect x="341.7" y="88.55000000000001" width="21.4" height="26.65" fill="#fff" stroke="#111" stroke-width="1.3"/>
<line x1="352.4" y1="86.19250000000001" x2="352.4" y2="90.9075" stroke="#111" stroke-width="1.3"/>
<line x1="346.7" y1="86.19250000000001" x2="358.09999999999997" y2="86.19250000000001" stroke="#111" stroke-width="1.3"/>
<line x1="346.7" y1="90.9075" x2="358.09999999999997" y2="90.9075" stroke="#111" stroke-width="1.3"/>
<line x1="352.4" y1="10.240000000000009" x2="352.4" y2="15.16000000000001" stroke="#111" stroke-width="1.3"/>
<line x1="346.7" y1="10.240000000000009" x2="358.09999999999997" y2="10.240000000000009" stroke="#111" stroke-width="1.3"/>
<line x1="346.7" y1="15.16000000000001" x2="358.09999999999997" y2="15.16000000000001" stroke="#111" stroke-width="1.3"/>
<line x1="384.7" y1="115.2" x2="384.7" y2="119.10000000000001" stroke="#111" stroke-width="1.3"/>
<rect x="374.0" y="12.700000000000017" width="21.4" height="72.77499999999999" fill="#8e8e8e" stroke="#111" stroke-width="1.3"/>
<rect x="374.0" y="85.47500000000001" width="21.4" height="29.724999999999998" fill="#fff" stroke="#111" stroke-width="1.3"/>
<line x1="384.7" y1="83.1175" x2="384.7" y2="87.83250000000001" stroke="#111" stroke-width="1.3"/>
<line x1="379.0" y1="83.1175" x2="390.4" y2="83.1175" stroke="#111" stroke-width="1.3"/>
<line x1="379.0" y1="87.83250000000001" x2="390.4" y2="87.83250000000001" stroke="#111" stroke-width="1.3"/>
<line x1="384.7" y1="10.137500000000017" x2="384.7" y2="15.262500000000017" stroke="#111" stroke-width="1.3"/>
<line x1="379.0" y1="10.137500000000017" x2="390.4" y2="10.137500000000017" stroke="#111" stroke-width="1.3"/>
<line x1="379.0" y1="15.262500000000017" x2="390.4" y2="15.262500000000017" stroke="#111" stroke-width="1.3"/>
<line x1="417.0" y1="115.2" x2="417.0" y2="119.10000000000001" stroke="#111" stroke-width="1.3"/>
<rect x="406.3" y="12.700000000000017" width="21.4" height="67.64999999999999" fill="#8e8e8e" stroke="#111" stroke-width="1.3"/>
<rect x="406.3" y="80.35000000000001" width="21.4" height="34.849999999999994" fill="#fff" stroke="#111" stroke-width="1.3"/>
<line x1="417.0" y1="76.45500000000001" x2="417.0" y2="84.245" stroke="#111" stroke-width="1.3"/>
<line x1="411.3" y1="76.45500000000001" x2="422.7" y2="76.45500000000001" stroke="#111" stroke-width="1.3"/>
<line x1="411.3" y1="84.245" x2="422.7" y2="84.245" stroke="#111" stroke-width="1.3"/>
<line x1="417.0" y1="8.39500000000001" x2="417.0" y2="17.00500000000001" stroke="#111" stroke-width="1.3"/>
<line x1="411.3" y1="8.39500000000001" x2="422.7" y2="8.39500000000001" stroke="#111" stroke-width="1.3"/>
<line x1="411.3" y1="17.00500000000001" x2="422.7" y2="17.00500000000001" stroke="#111" stroke-width="1.3"/>
<text x="287.6" y="130.0" font-size="10.7" text-anchor="middle" fill="#111">Input</text>
<text x="319.9" y="130.0" font-size="10.7" text-anchor="middle" fill="#111">24hrs</text>
<text x="352.4" y="130.0" font-size="10.7" text-anchor="middle" fill="#111">Day9</text>
<text x="384.7" y="130.0" font-size="10.7" text-anchor="middle" fill="#111">24hrs</text>
<text x="417.0" y="130.0" font-size="10.7" text-anchor="middle" fill="#111">Day9</text>
<line x1="306.2" y1="134.3" x2="365.8" y2="134.3" stroke="#111" stroke-width="1.3"/>
<line x1="374.8" y1="134.3" x2="433.4" y2="134.3" stroke="#111" stroke-width="1.3"/>
<text x="338.0" y="145.6" font-size="10.6" text-anchor="middle" fill="#111">Liver</text>
<text x="403.6" y="145.6" font-size="10.6" text-anchor="middle" fill="#111">Spleen</text>
<text x="244.4" y="63.95000000000001" font-size="11.8" text-anchor="middle" transform="rotate(-90 244.4 63.95000000000001)" fill="#111" dominant-baseline="central">% donor cells</text>
<rect x="438.6" y="11.7" width="18.2" height="7.4" fill="#fff" stroke="#111" stroke-width="1.2"/>
<rect x="438.6" y="26.299999999999997" width="18.2" height="7.4" fill="#8e8e8e" stroke="#111" stroke-width="1.2"/>
<text x="461.1" y="19.6" font-size="12.2" fill="#111">GFP<tspan font-size="6.6" dy="-4.2">+</tspan><tspan dy="4.2"> WT</tspan></text>
<text x="461.1" y="34.2" font-size="12.2" fill="#111">GFP<tspan font-size="7.5" dy="-4.5">-</tspan><tspan dy="4.5"> WT</tspan></text>
<line x1="272.0" y1="194.10000000000002" x2="272.0" y2="302.70000000000005" stroke="#111" stroke-width="1.3"/>
<line x1="269.6" y1="302.1" x2="272.0" y2="302.1" stroke="#111" stroke-width="1.2"/>
<text x="266.6" y="305.5" font-size="11.2" text-anchor="end" fill="#111">0</text>
<line x1="269.6" y1="281.6" x2="272.0" y2="281.6" stroke="#111" stroke-width="1.2"/>
<text x="266.6" y="285.0" font-size="11.2" text-anchor="end" fill="#111">20</text>
<line x1="269.6" y1="261.1" x2="272.0" y2="261.1" stroke="#111" stroke-width="1.2"/>
<text x="266.6" y="264.5" font-size="11.2" text-anchor="end" fill="#111">40</text>
<line x1="269.6" y1="240.60000000000002" x2="272.0" y2="240.60000000000002" stroke="#111" stroke-width="1.2"/>
<text x="266.6" y="244.00000000000003" font-size="11.2" text-anchor="end" fill="#111">60</text>
<line x1="269.6" y1="220.10000000000002" x2="272.0" y2="220.10000000000002" stroke="#111" stroke-width="1.2"/>
<text x="266.6" y="223.50000000000003" font-size="11.2" text-anchor="end" fill="#111">80</text>
<line x1="269.6" y1="199.60000000000002" x2="272.0" y2="199.60000000000002" stroke="#111" stroke-width="1.2"/>
<text x="266.6" y="203.00000000000003" font-size="11.2" text-anchor="end" fill="#111">100</text>
<line x1="272.0" y1="302.1" x2="432.20000000000005" y2="302.1" stroke="#111" stroke-width="1.3"/>
<line x1="288.20000000000005" y1="302.1" x2="288.20000000000005" y2="306.0" stroke="#111" stroke-width="1.3"/>
<rect x="277.50000000000006" y="199.60000000000002" width="21.4" height="66.625" fill="#8e8e8e" stroke="#111" stroke-width="1.3"/>
<rect x="277.50000000000006" y="266.225" width="21.4" height="35.875" fill="#fff" stroke="#111" stroke-width="1.3"/>
<line x1="288.20000000000005" y1="265.20000000000005" x2="288.20000000000005" y2="267.25" stroke="#111" stroke-width="1.3"/>
<line x1="282.50000000000006" y1="265.20000000000005" x2="293.90000000000003" y2="265.20000000000005" stroke="#111" stroke-width="1.3"/>
<line x1="282.50000000000006" y1="267.25" x2="293.90000000000003" y2="267.25" stroke="#111" stroke-width="1.3"/>
<line x1="288.20000000000005" y1="198.57500000000005" x2="288.20000000000005" y2="200.62500000000003" stroke="#111" stroke-width="1.3"/>
<line x1="282.50000000000006" y1="198.57500000000005" x2="293.90000000000003" y2="198.57500000000005" stroke="#111" stroke-width="1.3"/>
<line x1="282.50000000000006" y1="200.62500000000003" x2="293.90000000000003" y2="200.62500000000003" stroke="#111" stroke-width="1.3"/>
<line x1="320.5" y1="302.1" x2="320.5" y2="306.0" stroke="#111" stroke-width="1.3"/>
<rect x="309.8" y="199.60000000000002" width="21.4" height="57.39999999999999" fill="#8e8e8e" stroke="#111" stroke-width="1.3"/>
<rect x="309.8" y="257.0" width="21.4" height="45.099999999999994" fill="#fff" stroke="#111" stroke-width="1.3"/>
<line x1="320.5" y1="255.97500000000002" x2="320.5" y2="258.02500000000003" stroke="#111" stroke-width="1.3"/>
<line x1="314.8" y1="255.97500000000002" x2="326.2" y2="255.97500000000002" stroke="#111" stroke-width="1.3"/>
<line x1="314.8" y1="258.02500000000003" x2="326.2" y2="258.02500000000003" stroke="#111" stroke-width="1.3"/>
<line x1="320.5" y1="198.78000000000003" x2="320.5" y2="200.42000000000002" stroke="#111" stroke-width="1.3"/>
<line x1="314.8" y1="198.78000000000003" x2="326.2" y2="198.78000000000003" stroke="#111" stroke-width="1.3"/>
<line x1="314.8" y1="200.42000000000002" x2="326.2" y2="200.42000000000002" stroke="#111" stroke-width="1.3"/>
<line x1="353.0" y1="302.1" x2="353.0" y2="306.0" stroke="#111" stroke-width="1.3"/>
<rect x="342.3" y="199.60000000000002" width="21.4" height="76.3625" fill="#8e8e8e" stroke="#111" stroke-width="1.3"/>
<rect x="342.3" y="275.96250000000003" width="21.4" height="26.1375" fill="#fff" stroke="#111" stroke-width="1.3"/>
<line x1="353.0" y1="273.9125" x2="353.0" y2="278.01250000000005" stroke="#111" stroke-width="1.3"/>
<line x1="347.3" y1="273.9125" x2="358.7" y2="273.9125" stroke="#111" stroke-width="1.3"/>
<line x1="347.3" y1="278.01250000000005" x2="358.7" y2="278.01250000000005" stroke="#111" stroke-width="1.3"/>
<line x1="353.0" y1="196.93500000000003" x2="353.0" y2="202.26500000000004" stroke="#111" stroke-width="1.3"/>
<line x1="347.3" y1="196.93500000000003" x2="358.7" y2="196.93500000000003" stroke="#111" stroke-width="1.3"/>
<line x1="347.3" y1="202.26500000000004" x2="358.7" y2="202.26500000000004" stroke="#111" stroke-width="1.3"/>
<line x1="385.3" y1="302.1" x2="385.3" y2="306.0" stroke="#111" stroke-width="1.3"/>
<rect x="374.6" y="199.60000000000002" width="21.4" height="53.3" fill="#8e8e8e" stroke="#111" stroke-width="1.3"/>
<rect x="374.6" y="252.90000000000003" width="21.4" height="49.199999999999996" fill="#fff" stroke="#111" stroke-width="1.3"/>
<line x1="385.3" y1="250.33750000000003" x2="385.3" y2="255.46250000000003" stroke="#111" stroke-width="1.3"/>
<line x1="379.6" y1="250.33750000000003" x2="391.0" y2="250.33750000000003" stroke="#111" stroke-width="1.3"/>
<line x1="379.6" y1="255.46250000000003" x2="391.0" y2="255.46250000000003" stroke="#111" stroke-width="1.3"/>
<line x1="385.3" y1="195.50000000000003" x2="385.3" y2="203.70000000000005" stroke="#111" stroke-width="1.3"/>
<line x1="379.6" y1="195.50000000000003" x2="391.0" y2="195.50000000000003" stroke="#111" stroke-width="1.3"/>
<line x1="379.6" y1="203.70000000000005" x2="391.0" y2="203.70000000000005" stroke="#111" stroke-width="1.3"/>
<line x1="417.6" y1="302.1" x2="417.6" y2="306.0" stroke="#111" stroke-width="1.3"/>
<rect x="406.90000000000003" y="199.60000000000002" width="21.4" height="76.875" fill="#8e8e8e" stroke="#111" stroke-width="1.3"/>
<rect x="406.90000000000003" y="276.475" width="21.4" height="25.624999999999996" fill="#fff" stroke="#111" stroke-width="1.3"/>
<line x1="417.6" y1="271.8625" x2="417.6" y2="281.08750000000003" stroke="#111" stroke-width="1.3"/>
<line x1="411.90000000000003" y1="271.8625" x2="423.3" y2="271.8625" stroke="#111" stroke-width="1.3"/>
<line x1="411.90000000000003" y1="281.08750000000003" x2="423.3" y2="281.08750000000003" stroke="#111" stroke-width="1.3"/>
<line x1="417.6" y1="194.27000000000004" x2="417.6" y2="204.93000000000004" stroke="#111" stroke-width="1.3"/>
<line x1="411.90000000000003" y1="194.27000000000004" x2="423.3" y2="194.27000000000004" stroke="#111" stroke-width="1.3"/>
<line x1="411.90000000000003" y1="204.93000000000004" x2="423.3" y2="204.93000000000004" stroke="#111" stroke-width="1.3"/>
<text x="288.20000000000005" y="317.9" font-size="10.7" text-anchor="middle" fill="#111">Input</text>
<text x="320.5" y="317.9" font-size="10.7" text-anchor="middle" fill="#111">24hrs</text>
<text x="353.0" y="317.9" font-size="10.7" text-anchor="middle" fill="#111">Day9</text>
<text x="385.3" y="317.9" font-size="10.7" text-anchor="middle" fill="#111">24hrs</text>
<text x="417.6" y="317.9" font-size="10.7" text-anchor="middle" fill="#111">Day9</text>
<line x1="306.8" y1="322.0" x2="366.40000000000003" y2="322.0" stroke="#111" stroke-width="1.3"/>
<line x1="375.40000000000003" y1="322.0" x2="434.0" y2="322.0" stroke="#111" stroke-width="1.3"/>
<text x="338.0" y="333.2" font-size="10.6" text-anchor="middle" fill="#111">Liver</text>
<text x="403.6" y="333.2" font-size="10.6" text-anchor="middle" fill="#111">Spleen</text>
<text x="244.4" y="250.85000000000002" font-size="11.8" text-anchor="middle" transform="rotate(-90 244.4 250.85000000000002)" fill="#111" dominant-baseline="central">% donor cells</text>
<rect x="438.6" y="198.6" width="18.2" height="7.4" fill="#fff" stroke="#111" stroke-width="1.2"/>
<rect x="438.6" y="213.2" width="18.2" height="7.4" fill="#8e8e8e" stroke="#111" stroke-width="1.2"/>
<text x="461.1" y="206.5" font-size="12.2" fill="#111">GFP<tspan font-size="6.6" dy="-4.2">+</tspan><tspan dy="4.2"> CPM</tspan></text>
<text x="461.1" y="221.1" font-size="12.2" fill="#111">GFP<tspan font-size="7.5" dy="-4.5">-</tspan><tspan dy="4.5"> WT</tspan></text>
<path d="M320.2,195 L320.2,179.4 L353.0,179.4 L353.0,195" fill="none" stroke="#111" stroke-width="1.3"/>
<path d="M333.00,170.75 L333.00,176.45 M330.19,171.41 L335.81,175.79 M330.19,175.79 L335.81,171.41 " stroke="#111" stroke-width="1.3" stroke-linecap="round" fill="none"/>
<path d="M340.40,170.75 L340.40,176.45 M337.59,171.41 L343.21,175.79 M337.59,175.79 L343.21,171.41 " stroke="#111" stroke-width="1.3" stroke-linecap="round" fill="none"/>
<path d="M384.8,190 L384.8,179.4 L417.2,179.4 L417.2,193" fill="none" stroke="#111" stroke-width="1.3"/>
<path d="M400.70,170.75 L400.70,176.45 M397.89,171.41 L403.51,175.79 M397.89,175.79 L403.51,171.41 " stroke="#111" stroke-width="1.3" stroke-linecap="round" fill="none"/>
<path d="M22.6,452.8 L23.1,438.6 L24.3,437.1 L25.7,440.0 L27.1,430.0 L28.3,426.4 L29.3,431.4 L30.7,427.1 L32.1,418.6 L33.6,415.7 L35.0,404.3 L36.0,401.4 L37.1,408.6 L38.6,398.6 L40.0,391.4 L41.4,376.4 L42.4,382.9 L43.3,388.6 L44.3,384.3 L45.4,391.4 L46.4,384.3 L47.4,394.3 L48.6,404.3 L50.0,412.9 L51.7,417.1 L53.1,422.9 L54.3,427.1 L55.7,435.7 L57.4,442.9 L59.3,447.9 L60.7,451.4 L62.1,452.8 Z" fill="#ababab" stroke="#ababab" stroke-width="0.4"/>
<path d="M22.6,451.4 L25.7,450.0 L28.6,448.6 L31.4,447.9 L34.3,447.1 L36.4,441.4 L38.6,438.6 L40.7,432.9 L42.9,427.1 L45.0,420.0 L46.4,415.7 L47.9,407.1 L49.3,401.4 L50.7,397.1 L52.1,387.1 L53.6,378.6 L54.3,375.7 L55.4,384.3 L56.9,391.4 L57.9,398.6 L58.9,410.0 L60.0,424.3 L61.1,435.7 L62.1,444.3 L63.6,450.0 L65.7,451.9 L70.0,452.4 L104.3,452.4" fill="none" stroke="#111" stroke-width="1.5" stroke-linejoin="round"/>
<rect x="22.1" y="370.4" width="82.19999999999999" height="82.40000000000003" fill="none" stroke="#666" stroke-width="0.9"/>
<path d="M22.10,452.80 l-2.6,0 M22.10,448.88 l-1.4,0 M22.10,444.95 l-1.4,0 M22.10,441.02 l-1.4,0 M22.10,437.10 l-2.6,0 M22.10,433.18 l-1.4,0 M22.10,429.25 l-1.4,0 M22.10,425.32 l-1.4,0 M22.10,421.40 l-2.6,0 M22.10,417.48 l-1.4,0 M22.10,413.55 l-1.4,0 M22.10,409.62 l-1.4,0 M22.10,405.70 l-2.6,0 M22.10,401.77 l-1.4,0 M22.10,397.85 l-1.4,0 M22.10,393.93 l-1.4,0 M22.10,390.00 l-2.6,0 M22.10,386.07 l-1.4,0 M22.10,382.15 l-1.4,0 M22.10,378.22 l-1.4,0 M22.10,374.30 l-2.6,0 " stroke="#444" stroke-width="0.75" fill="none"/>
<path d="M23.10,452.8 l0,2.2 M24.40,452.8 l0,2.2 M25.70,452.8 l0,2.2 M27.00,452.8 l0,2.2 M28.30,452.8 l0,2.2 M29.60,452.8 l0,2.2 M30.10,452.8 l0,2.4 M35.68,452.8 l0,1.6 M38.95,452.8 l0,1.6 M41.27,452.8 l0,1.6 M43.07,452.8 l0,1.6 M44.53,452.8 l0,1.6 M45.78,452.8 l0,1.6 M46.85,452.8 l0,1.6 M47.80,452.8 l0,1.6 M48.65,452.8 l0,2.4 M54.23,452.8 l0,1.6 M57.50,452.8 l0,1.6 M59.82,452.8 l0,1.6 M61.62,452.8 l0,1.6 M63.08,452.8 l0,1.6 M64.33,452.8 l0,1.6 M65.40,452.8 l0,1.6 M66.35,452.8 l0,1.6 M67.20,452.8 l0,2.4 M72.78,452.8 l0,1.6 M76.05,452.8 l0,1.6 M78.37,452.8 l0,1.6 M80.17,452.8 l0,1.6 M81.63,452.8 l0,1.6 M82.88,452.8 l0,1.6 M83.95,452.8 l0,1.6 M84.90,452.8 l0,1.6 M85.75,452.8 l0,2.4 M91.33,452.8 l0,1.6 M94.60,452.8 l0,1.6 M96.92,452.8 l0,1.6 M98.72,452.8 l0,1.6 M100.18,452.8 l0,1.6 M101.43,452.8 l0,1.6 M102.50,452.8 l0,1.6 M103.45,452.8 l0,1.6 " stroke="#444" stroke-width="0.7" fill="none"/>
<line x1="22.1" y1="463.0" x2="94.3" y2="463.0" stroke="#000" stroke-width="1.5"/>
<polygon points="104.3,463.0 92.3,460.1 92.3,465.9" fill="#000"/>
<text x="63.6" y="363.5" font-size="12" text-anchor="middle" fill="#111">Liver</text>
<text x="63.2" y="474.2" font-size="11.8" text-anchor="middle" fill="#111">Bcl2</text>
<text x="79.8" y="389.3" font-size="8.8" text-anchor="start" fill="#111">WT</text>
<text x="78.5" y="428.1" font-size="8.7" text-anchor="start" fill="#111">CPM</text>
<line x1="58.1" y1="396.9" x2="77.5" y2="388.5" stroke="#111" stroke-width="1.2"/>
<line x1="44.8" y1="438" x2="75.8" y2="428" stroke="#111" stroke-width="1.2"/>
<path d="M117.1,452.8 L117.4,432.9 L118.6,437.1 L119.6,430.0 L120.7,434.3 L122.1,425.7 L123.3,418.6 L124.3,424.3 L125.7,417.1 L127.1,411.4 L128.6,410.0 L130.0,402.9 L131.4,398.6 L132.4,390.0 L133.6,402.9 L134.7,395.7 L135.7,381.4 L136.7,377.1 L137.6,382.9 L138.6,375.7 L139.6,381.4 L140.7,392.9 L141.9,398.6 L142.9,404.3 L143.6,417.1 L144.7,422.9 L145.7,430.0 L147.1,437.1 L148.6,444.3 L150.0,450.0 L151.4,452.8 Z" fill="#ababab" stroke="#ababab" stroke-width="0.4"/>
<path d="M117.1,447.9 L118.6,445.7 L120.0,443.5 L121.4,440.0 L122.9,437.1 L124.3,434.3 L125.7,430.0 L127.1,426.4 L128.6,424.3 L130.0,420.0 L131.4,415.7 L132.4,411.4 L133.6,408.6 L135.0,405.7 L136.4,402.9 L137.6,398.6 L138.3,392.9 L139.0,385.7 L139.6,387.1 L140.4,375.7 L141.1,384.3 L141.9,388.6 L142.6,395.7 L143.3,391.4 L144.3,398.6 L145.3,405.7 L146.1,408.6 L147.1,420.0 L148.1,431.4 L149.3,438.6 L150.7,444.3 L152.4,448.6 L155.0,451.4 L157.9,452.4 L199.1,452.4" fill="none" stroke="#111" stroke-width="1.5" stroke-linejoin="round"/>
<rect x="116.9" y="370.4" width="82.19999999999999" height="82.40000000000003" fill="none" stroke="#666" stroke-width="0.9"/>
<path d="M116.90,452.80 l-2.6,0 M116.90,448.88 l-1.4,0 M116.90,444.95 l-1.4,0 M116.90,441.02 l-1.4,0 M116.90,437.10 l-2.6,0 M116.90,433.18 l-1.4,0 M116.90,429.25 l-1.4,0 M116.90,425.32 l-1.4,0 M116.90,421.40 l-2.6,0 M116.90,417.48 l-1.4,0 M116.90,413.55 l-1.4,0 M116.90,409.62 l-1.4,0 M116.90,405.70 l-2.6,0 M116.90,401.77 l-1.4,0 M116.90,397.85 l-1.4,0 M116.90,393.93 l-1.4,0 M116.90,390.00 l-2.6,0 M116.90,386.07 l-1.4,0 M116.90,382.15 l-1.4,0 M116.90,378.22 l-1.4,0 M116.90,374.30 l-2.6,0 " stroke="#444" stroke-width="0.75" fill="none"/>
<path d="M117.90,452.8 l0,2.2 M119.20,452.8 l0,2.2 M120.50,452.8 l0,2.2 M121.80,452.8 l0,2.2 M123.10,452.8 l0,2.2 M124.40,452.8 l0,2.2 M124.90,452.8 l0,2.4 M130.48,452.8 l0,1.6 M133.75,452.8 l0,1.6 M136.07,452.8 l0,1.6 M137.87,452.8 l0,1.6 M139.33,452.8 l0,1.6 M140.58,452.8 l0,1.6 M141.65,452.8 l0,1.6 M142.60,452.8 l0,1.6 M143.45,452.8 l0,2.4 M149.03,452.8 l0,1.6 M152.30,452.8 l0,1.6 M154.62,452.8 l0,1.6 M156.42,452.8 l0,1.6 M157.88,452.8 l0,1.6 M159.13,452.8 l0,1.6 M160.20,452.8 l0,1.6 M161.15,452.8 l0,1.6 M162.00,452.8 l0,2.4 M167.58,452.8 l0,1.6 M170.85,452.8 l0,1.6 M173.17,452.8 l0,1.6 M174.97,452.8 l0,1.6 M176.43,452.8 l0,1.6 M177.68,452.8 l0,1.6 M178.75,452.8 l0,1.6 M179.70,452.8 l0,1.6 M180.55,452.8 l0,2.4 M186.13,452.8 l0,1.6 M189.40,452.8 l0,1.6 M191.72,452.8 l0,1.6 M193.52,452.8 l0,1.6 M194.98,452.8 l0,1.6 M196.23,452.8 l0,1.6 M197.30,452.8 l0,1.6 M198.25,452.8 l0,1.6 " stroke="#444" stroke-width="0.7" fill="none"/>
<line x1="116.9" y1="463.0" x2="189.1" y2="463.0" stroke="#000" stroke-width="1.5"/>
<polygon points="199.1,463.0 187.1,460.1 187.1,465.9" fill="#000"/>
<text x="159.0" y="363.5" font-size="12" text-anchor="middle" fill="#111">Spleen</text>
<text x="158.0" y="474.2" font-size="11.8" text-anchor="middle" fill="#111">Bcl2</text>
<text x="173.3" y="391.2" font-size="8.8" text-anchor="start" fill="#111">WT</text>
<text x="169.5" y="427.0" font-size="8.7" text-anchor="start" fill="#111">CPM</text>
<line x1="144.8" y1="397.5" x2="170" y2="388.7" stroke="#111" stroke-width="1.2"/>
<line x1="136" y1="438" x2="165.6" y2="426" stroke="#111" stroke-width="1.2"/>
<path d="M209.84,452.81 L210.93,447.78 L213.12,441.22 L215.31,432.47 L217.49,425.91 L219.68,419.35 L221.87,410.6 L224.05,401.86 L226.24,395.3 L228.43,388.73 L230.61,384.36 L232.8,382.17 L234.99,378.89 L237.17,376.71 L238.27,378.89 L239.36,382.17 L240.45,388.73 L241.55,399.67 L242.64,410.6 L243.73,423.72 L244.83,436.84 L245.92,447.78 L247.02,452.15 L248.11,452.81 Z" fill="#ababab" stroke="#ababab" stroke-width="0.4"/>
<path d="M209.84,452.15 L213.12,451.06 L217.49,448.87 L221.87,445.59 L226.24,441.22 L230.61,432.47 L234.99,417.16 L238.27,401.86 L240.45,388.73 L241.99,379.99 L243.73,375.61 L244.83,379.99 L245.92,390.92 L247.02,406.23 L248.11,428.1 L249.2,441.22 L250.3,449.96 L252.48,452.59 L289.66,452.81" fill="none" stroke="#111" stroke-width="1.5" stroke-linejoin="round"/>
<rect x="210.2" y="370.4" width="82.0" height="82.20000000000005" fill="none" stroke="#666" stroke-width="0.9"/>
<path d="M210.20,452.60 l-2.6,0 M210.20,448.69 l-1.4,0 M210.20,444.77 l-1.4,0 M210.20,440.86 l-1.4,0 M210.20,436.94 l-2.6,0 M210.20,433.03 l-1.4,0 M210.20,429.11 l-1.4,0 M210.20,425.19 l-1.4,0 M210.20,421.28 l-2.6,0 M210.20,417.37 l-1.4,0 M210.20,413.45 l-1.4,0 M210.20,409.54 l-1.4,0 M210.20,405.62 l-2.6,0 M210.20,401.70 l-1.4,0 M210.20,397.79 l-1.4,0 M210.20,393.88 l-1.4,0 M210.20,389.96 l-2.6,0 M210.20,386.04 l-1.4,0 M210.20,382.13 l-1.4,0 M210.20,378.21 l-1.4,0 M210.20,374.30 l-2.6,0 " stroke="#444" stroke-width="0.75" fill="none"/>
<path d="M211.20,452.6 l0,2.2 M212.50,452.6 l0,2.2 M213.80,452.6 l0,2.2 M215.10,452.6 l0,2.2 M216.40,452.6 l0,2.2 M217.70,452.6 l0,2.2 M218.20,452.6 l0,2.4 M223.77,452.6 l0,1.6 M227.03,452.6 l0,1.6 M229.34,452.6 l0,1.6 M231.13,452.6 l0,1.6 M232.60,452.6 l0,1.6 M233.83,452.6 l0,1.6 M234.91,452.6 l0,1.6 M235.85,452.6 l0,1.6 M236.70,452.6 l0,2.4 M242.27,452.6 l0,1.6 M245.53,452.6 l0,1.6 M247.84,452.6 l0,1.6 M249.63,452.6 l0,1.6 M251.10,452.6 l0,1.6 M252.33,452.6 l0,1.6 M253.41,452.6 l0,1.6 M254.35,452.6 l0,1.6 M255.20,452.6 l0,2.4 M260.77,452.6 l0,1.6 M264.03,452.6 l0,1.6 M266.34,452.6 l0,1.6 M268.13,452.6 l0,1.6 M269.60,452.6 l0,1.6 M270.83,452.6 l0,1.6 M271.91,452.6 l0,1.6 M272.85,452.6 l0,1.6 M273.70,452.6 l0,2.4 M279.27,452.6 l0,1.6 M282.53,452.6 l0,1.6 M284.84,452.6 l0,1.6 M286.63,452.6 l0,1.6 M288.10,452.6 l0,1.6 M289.33,452.6 l0,1.6 M290.41,452.6 l0,1.6 M291.35,452.6 l0,1.6 " stroke="#444" stroke-width="0.7" fill="none"/>
<line x1="210.2" y1="463.0" x2="282.2" y2="463.0" stroke="#000" stroke-width="1.5"/>
<polygon points="292.2,463.0 280.2,460.1 280.2,465.9" fill="#000"/>
<text x="250.0" y="363.5" font-size="12" text-anchor="middle" fill="#111">Thymus</text>
<text x="247.2" y="474.2" font-size="11.8" text-anchor="middle" fill="#111">Bcl2</text>
<text x="271" y="388.7" font-size="8.8" text-anchor="start" fill="#111">WT</text>
<text x="266.7" y="428.1" font-size="8.7" text-anchor="start" fill="#111">CPM</text>
<line x1="247" y1="392" x2="268.9" y2="385.5" stroke="#111" stroke-width="1.2"/>
<line x1="237.2" y1="434.7" x2="265.6" y2="427" stroke="#111" stroke-width="1.2"/>
<path d="M41.25,572.6 L42.31,569.43 L44.43,567.74 L45.48,563.08 L47.6,560.97 L49.71,554.62 L50.77,539.81 L52.89,525.0 L53.95,512.31 L55.43,505.96 L56.7,503.85 L57.54,494.33 L58.18,512.31 L59.23,527.12 L60.29,539.81 L61.35,550.39 L63.47,558.85 L65.58,563.08 L67.7,566.26 L68.75,569.43 L69.81,572.6 Z" fill="#979797" stroke="#979797" stroke-width="0.4"/>
<path d="M42.31,572.6 L46.54,571.54 L50.77,568.37 L53.95,563.08 L55.43,554.62 L57.12,535.58 L58.81,522.89 L60.29,505.96 L61.35,499.62 L62.41,494.33 L63.47,501.73 L64.1,512.31 L65.58,525.0 L67.27,539.81 L68.75,558.85 L69.81,569.43 L70.87,572.18 L105.14,572.6" fill="none" stroke="#111" stroke-width="1.15" stroke-linejoin="round"/>
<rect x="22.2" y="488.9" width="83.2" height="83.89999999999998" fill="none" stroke="#666" stroke-width="0.9"/>
<path d="M22.20,572.80 l-2.6,0 M22.20,568.80 l-1.4,0 M22.20,564.80 l-1.4,0 M22.20,560.80 l-1.4,0 M22.20,556.80 l-2.6,0 M22.20,552.80 l-1.4,0 M22.20,548.80 l-1.4,0 M22.20,544.80 l-1.4,0 M22.20,540.80 l-2.6,0 M22.20,536.80 l-1.4,0 M22.20,532.80 l-1.4,0 M22.20,528.80 l-1.4,0 M22.20,524.80 l-2.6,0 M22.20,520.80 l-1.4,0 M22.20,516.80 l-1.4,0 M22.20,512.80 l-1.4,0 M22.20,508.80 l-2.6,0 M22.20,504.80 l-1.4,0 M22.20,500.80 l-1.4,0 M22.20,496.80 l-1.4,0 M22.20,492.80 l-2.6,0 " stroke="#444" stroke-width="0.75" fill="none"/>
<path d="M23.20,572.8 l0,2.2 M24.50,572.8 l0,2.2 M25.80,572.8 l0,2.2 M27.10,572.8 l0,2.2 M28.40,572.8 l0,2.2 M29.70,572.8 l0,2.2 M30.20,572.8 l0,2.4 M35.86,572.8 l0,1.6 M39.17,572.8 l0,1.6 M41.52,572.8 l0,1.6 M43.34,572.8 l0,1.6 M44.83,572.8 l0,1.6 M46.09,572.8 l0,1.6 M47.18,572.8 l0,1.6 M48.14,572.8 l0,1.6 M49.00,572.8 l0,2.4 M54.66,572.8 l0,1.6 M57.97,572.8 l0,1.6 M60.32,572.8 l0,1.6 M62.14,572.8 l0,1.6 M63.63,572.8 l0,1.6 M64.89,572.8 l0,1.6 M65.98,572.8 l0,1.6 M66.94,572.8 l0,1.6 M67.80,572.8 l0,2.4 M73.46,572.8 l0,1.6 M76.77,572.8 l0,1.6 M79.12,572.8 l0,1.6 M80.94,572.8 l0,1.6 M82.43,572.8 l0,1.6 M83.69,572.8 l0,1.6 M84.78,572.8 l0,1.6 M85.74,572.8 l0,1.6 M86.60,572.8 l0,2.4 M92.26,572.8 l0,1.6 M95.57,572.8 l0,1.6 M97.92,572.8 l0,1.6 M99.74,572.8 l0,1.6 M101.23,572.8 l0,1.6 M102.49,572.8 l0,1.6 M103.58,572.8 l0,1.6 M104.54,572.8 l0,1.6 " stroke="#444" stroke-width="0.7" fill="none"/>
<line x1="22.2" y1="581.0" x2="95.4" y2="581.0" stroke="#000" stroke-width="1.5"/>
<polygon points="105.4,581.0 93.4,578.1 93.4,583.9" fill="#000"/>
<text x="61.5" y="594.3" font-size="11.8" text-anchor="middle" fill="#111">CD18</text>
<text x="88.8" y="510.2" font-size="8.8" text-anchor="start" fill="#111">WT</text>
<text x="81.4" y="544.0" font-size="8.7" text-anchor="start" fill="#111">CPM</text>
<line x1="63.5" y1="512.3" x2="86.7" y2="506.4" stroke="#111" stroke-width="1.2"/>
<line x1="59.2" y1="556.7" x2="80.4" y2="540.9" stroke="#111" stroke-width="1.2"/>
<path d="M144.43,573.03 L147.6,569.43 L149.71,563.08 L150.77,556.74 L152.89,550.39 L153.95,539.81 L155.0,525.0 L156.06,512.31 L157.12,505.96 L158.81,499.62 L159.66,495.39 L160.93,501.73 L161.77,512.31 L163.04,522.89 L164.52,533.47 L166.64,546.16 L168.75,558.85 L170.87,567.31 L172.98,571.54 L175.1,573.03 Z" fill="#979797" stroke="#979797" stroke-width="0.4"/>
<path d="M145.48,573.03 L149.71,571.54 L152.89,565.2 L156.06,560.97 L158.18,552.5 L160.29,537.7 L162.41,525.0 L163.47,512.31 L164.52,505.96 L166.64,501.73 L167.7,494.33 L168.75,503.85 L169.81,516.54 L170.87,533.47 L171.93,550.39 L172.98,563.08 L174.04,570.49 L176.16,573.03 L200.49,573.03" fill="none" stroke="#111" stroke-width="1.15" stroke-linejoin="round"/>
<rect x="117.5" y="489.4" width="82.9" height="83.60000000000002" fill="none" stroke="#666" stroke-width="0.9"/>
<path d="M117.50,573.00 l-2.6,0 M117.50,569.01 l-1.4,0 M117.50,565.03 l-1.4,0 M117.50,561.04 l-1.4,0 M117.50,557.06 l-2.6,0 M117.50,553.08 l-1.4,0 M117.50,549.09 l-1.4,0 M117.50,545.11 l-1.4,0 M117.50,541.12 l-2.6,0 M117.50,537.13 l-1.4,0 M117.50,533.15 l-1.4,0 M117.50,529.16 l-1.4,0 M117.50,525.18 l-2.6,0 M117.50,521.19 l-1.4,0 M117.50,517.21 l-1.4,0 M117.50,513.23 l-1.4,0 M117.50,509.24 l-2.6,0 M117.50,505.25 l-1.4,0 M117.50,501.27 l-1.4,0 M117.50,497.28 l-1.4,0 M117.50,493.30 l-2.6,0 " stroke="#444" stroke-width="0.75" fill="none"/>
<path d="M118.50,573.0 l0,2.2 M119.80,573.0 l0,2.2 M121.10,573.0 l0,2.2 M122.40,573.0 l0,2.2 M123.70,573.0 l0,2.2 M125.00,573.0 l0,2.2 M125.50,573.0 l0,2.4 M131.14,573.0 l0,1.6 M134.43,573.0 l0,1.6 M136.77,573.0 l0,1.6 M138.59,573.0 l0,1.6 M140.07,573.0 l0,1.6 M141.32,573.0 l0,1.6 M142.41,573.0 l0,1.6 M143.37,573.0 l0,1.6 M144.22,573.0 l0,2.4 M149.86,573.0 l0,1.6 M153.16,573.0 l0,1.6 M155.50,573.0 l0,1.6 M157.31,573.0 l0,1.6 M158.80,573.0 l0,1.6 M160.05,573.0 l0,1.6 M161.14,573.0 l0,1.6 M162.09,573.0 l0,1.6 M162.95,573.0 l0,2.4 M168.59,573.0 l0,1.6 M171.88,573.0 l0,1.6 M174.22,573.0 l0,1.6 M176.04,573.0 l0,1.6 M177.52,573.0 l0,1.6 M178.77,573.0 l0,1.6 M179.86,573.0 l0,1.6 M180.82,573.0 l0,1.6 M181.68,573.0 l0,2.4 M187.31,573.0 l0,1.6 M190.61,573.0 l0,1.6 M192.95,573.0 l0,1.6 M194.76,573.0 l0,1.6 M196.25,573.0 l0,1.6 M197.50,573.0 l0,1.6 M198.59,573.0 l0,1.6 M199.54,573.0 l0,1.6 " stroke="#444" stroke-width="0.7" fill="none"/>
<line x1="117.5" y1="581.0" x2="190.4" y2="581.0" stroke="#000" stroke-width="1.5"/>
<polygon points="200.4,581.0 188.4,578.1 188.4,583.9" fill="#000"/>
<text x="158.95" y="594.3" font-size="11.8" text-anchor="middle" fill="#111">CD18</text>
<text x="184.6" y="511.3" font-size="8.8" text-anchor="start" fill="#111">WT</text>
<text x="177.2" y="540.9" font-size="8.7" text-anchor="start" fill="#111">CPM</text>
<line x1="169.8" y1="510.2" x2="182.5" y2="507.7" stroke="#111" stroke-width="1.2"/>
<line x1="161.3" y1="558.8" x2="176.2" y2="543" stroke="#111" stroke-width="1.2"/>
<path d="M243.37,573.03 L244.85,569.43 L246.54,563.08 L247.6,554.62 L248.66,533.47 L249.71,512.31 L250.77,501.73 L251.41,495.39 L252.25,496.44 L252.89,508.08 L253.95,525.0 L255.0,544.04 L256.7,558.85 L258.18,567.31 L260.29,571.54 L261.35,573.03 Z" fill="#979797" stroke="#979797" stroke-width="0.4"/>
<path d="M244.43,573.03 L246.54,571.54 L248.23,567.31 L249.71,558.85 L251.2,539.81 L252.46,522.89 L253.95,505.96 L255.0,497.5 L256.06,494.96 L257.12,499.62 L258.18,512.31 L259.23,533.47 L260.29,550.39 L261.35,563.08 L262.41,570.49 L263.47,573.03 L293.08,573.03" fill="none" stroke="#111" stroke-width="1.15" stroke-linejoin="round"/>
<rect x="210.5" y="489.4" width="82.60000000000002" height="83.60000000000002" fill="none" stroke="#666" stroke-width="0.9"/>
<path d="M210.50,573.00 l-2.6,0 M210.50,569.01 l-1.4,0 M210.50,565.03 l-1.4,0 M210.50,561.04 l-1.4,0 M210.50,557.06 l-2.6,0 M210.50,553.08 l-1.4,0 M210.50,549.09 l-1.4,0 M210.50,545.11 l-1.4,0 M210.50,541.12 l-2.6,0 M210.50,537.13 l-1.4,0 M210.50,533.15 l-1.4,0 M210.50,529.16 l-1.4,0 M210.50,525.18 l-2.6,0 M210.50,521.19 l-1.4,0 M210.50,517.21 l-1.4,0 M210.50,513.23 l-1.4,0 M210.50,509.24 l-2.6,0 M210.50,505.25 l-1.4,0 M210.50,501.27 l-1.4,0 M210.50,497.28 l-1.4,0 M210.50,493.30 l-2.6,0 " stroke="#444" stroke-width="0.75" fill="none"/>
<path d="M211.50,573.0 l0,2.2 M212.80,573.0 l0,2.2 M214.10,573.0 l0,2.2 M215.40,573.0 l0,2.2 M216.70,573.0 l0,2.2 M218.00,573.0 l0,2.2 M218.50,573.0 l0,2.4 M224.11,573.0 l0,1.6 M227.40,573.0 l0,1.6 M229.73,573.0 l0,1.6 M231.54,573.0 l0,1.6 M233.01,573.0 l0,1.6 M234.26,573.0 l0,1.6 M235.34,573.0 l0,1.6 M236.30,573.0 l0,1.6 M237.15,573.0 l0,2.4 M242.76,573.0 l0,1.6 M246.05,573.0 l0,1.6 M248.38,573.0 l0,1.6 M250.19,573.0 l0,1.6 M251.66,573.0 l0,1.6 M252.91,573.0 l0,1.6 M253.99,573.0 l0,1.6 M254.95,573.0 l0,1.6 M255.80,573.0 l0,2.4 M261.41,573.0 l0,1.6 M264.70,573.0 l0,1.6 M267.03,573.0 l0,1.6 M268.84,573.0 l0,1.6 M270.31,573.0 l0,1.6 M271.56,573.0 l0,1.6 M272.64,573.0 l0,1.6 M273.60,573.0 l0,1.6 M274.45,573.0 l0,2.4 M280.06,573.0 l0,1.6 M283.35,573.0 l0,1.6 M285.68,573.0 l0,1.6 M287.49,573.0 l0,1.6 M288.96,573.0 l0,1.6 M290.21,573.0 l0,1.6 M291.29,573.0 l0,1.6 M292.25,573.0 l0,1.6 " stroke="#444" stroke-width="0.7" fill="none"/>
<line x1="210.5" y1="581.0" x2="283.1" y2="581.0" stroke="#000" stroke-width="1.5"/>
<polygon points="293.1,581.0 281.1,578.1 281.1,583.9" fill="#000"/>
<text x="253.6" y="594.3" font-size="11.8" text-anchor="middle" fill="#111">CD18</text>
<text x="276.2" y="504.9" font-size="8.8" text-anchor="start" fill="#111">WT</text>
<text x="269.8" y="540.9" font-size="8.7" text-anchor="start" fill="#111">CPM</text>
<line x1="257.1" y1="504.9" x2="274" y2="501.3" stroke="#111" stroke-width="1.2"/>
<line x1="252.9" y1="559.9" x2="268.1" y2="541.5" stroke="#111" stroke-width="1.2"/>
<text x="11.1" y="411.5" font-size="12.2" text-anchor="middle" transform="rotate(-90 11.1 411.5)" fill="#111" dominant-baseline="central">% of max</text>
<text x="11.4" y="531.3" font-size="12.2" text-anchor="middle" transform="rotate(-90 11.4 531.3)" fill="#111" dominant-baseline="central">% of max</text>
<text x="409.6" y="365" font-size="10.9" text-anchor="middle" fill="#111">Bcl2 Mean Expression</text>
<line x1="355.3" y1="366.5" x2="463.9" y2="366.5" stroke="#111" stroke-width="1.1"/>
<line x1="361.7" y1="381.4" x2="448.52" y2="381.4" stroke="#111" stroke-width="1.2"/>
<line x1="361.7" y1="381.4" x2="361.7" y2="379.4" stroke="#111" stroke-width="1.1"/>
<text x="361.7" y="378.8" font-size="10.8" text-anchor="middle" fill="#111">0</text>
<line x1="390.64" y1="381.4" x2="390.64" y2="379.4" stroke="#111" stroke-width="1.1"/>
<text x="390.64" y="378.8" font-size="10.8" text-anchor="middle" fill="#111">200</text>
<line x1="419.58" y1="381.4" x2="419.58" y2="379.4" stroke="#111" stroke-width="1.1"/>
<text x="419.58" y="378.8" font-size="10.8" text-anchor="middle" fill="#111">400</text>
<line x1="448.52" y1="381.4" x2="448.52" y2="379.4" stroke="#111" stroke-width="1.1"/>
<text x="448.52" y="378.8" font-size="10.8" text-anchor="middle" fill="#111">600</text>
<line x1="361.7" y1="381.4" x2="361.7" y2="467.0" stroke="#111" stroke-width="1.3"/>
<rect x="361.7" y="384.7" width="68.009" height="10.900000000000034" fill="#fff" stroke="#111" stroke-width="1.2"/>
<line x1="359.7" y1="390.15" x2="361.7" y2="390.15" stroke="#111" stroke-width="1.0"/>
<line x1="426.5256" y1="390.15" x2="432.89239999999995" y2="390.15" stroke="#111" stroke-width="1.2"/>
<line x1="426.5256" y1="387.95" x2="426.5256" y2="392.34999999999997" stroke="#111" stroke-width="1.2"/>
<line x1="432.89239999999995" y1="387.95" x2="432.89239999999995" y2="392.34999999999997" stroke="#111" stroke-width="1.2"/>
<rect x="361.7" y="395.6" width="35.0174" height="10.799999999999955" fill="#929292" stroke="#111" stroke-width="1.2"/>
<line x1="359.7" y1="401.0" x2="361.7" y2="401.0" stroke="#111" stroke-width="1.0"/>
<line x1="392.6658" y1="401.0" x2="400.769" y2="401.0" stroke="#111" stroke-width="1.2"/>
<line x1="392.6658" y1="398.8" x2="392.6658" y2="403.2" stroke="#111" stroke-width="1.2"/>
<line x1="400.769" y1="398.8" x2="400.769" y2="403.2" stroke="#111" stroke-width="1.2"/>
<rect x="361.7" y="414.6" width="28.939999999999998" height="10.599999999999966" fill="#fff" stroke="#111" stroke-width="1.2"/>
<line x1="359.7" y1="419.9" x2="361.7" y2="419.9" stroke="#111" stroke-width="1.0"/>
<line x1="390.64" y1="417.1" x2="390.64" y2="422.7" stroke="#111" stroke-width="2.2"/>
<rect x="361.7" y="425.2" width="19.534499999999998" height="10.600000000000023" fill="#929292" stroke="#111" stroke-width="1.2"/>
<line x1="359.7" y1="430.5" x2="361.7" y2="430.5" stroke="#111" stroke-width="1.0"/>
<line x1="378.62989999999996" y1="430.5" x2="383.8391" y2="430.5" stroke="#111" stroke-width="1.2"/>
<line x1="378.62989999999996" y1="428.3" x2="378.62989999999996" y2="432.7" stroke="#111" stroke-width="1.2"/>
<line x1="383.8391" y1="428.3" x2="383.8391" y2="432.7" stroke="#111" stroke-width="1.2"/>
<rect x="361.7" y="444.8" width="70.61359999999999" height="10.800000000000011" fill="#fff" stroke="#111" stroke-width="1.2"/>
<line x1="359.7" y1="450.20000000000005" x2="361.7" y2="450.20000000000005" stroke="#111" stroke-width="1.0"/>
<line x1="426.5256" y1="450.20000000000005" x2="438.10159999999996" y2="450.20000000000005" stroke="#111" stroke-width="1.2"/>
<line x1="426.5256" y1="448.00000000000006" x2="426.5256" y2="452.40000000000003" stroke="#111" stroke-width="1.2"/>
<line x1="438.10159999999996" y1="448.00000000000006" x2="438.10159999999996" y2="452.40000000000003" stroke="#111" stroke-width="1.2"/>
<rect x="361.7" y="455.6" width="42.2524" height="10.799999999999955" fill="#929292" stroke="#111" stroke-width="1.2"/>
<line x1="359.7" y1="461.0" x2="361.7" y2="461.0" stroke="#111" stroke-width="1.0"/>
<line x1="399.322" y1="461.0" x2="408.58279999999996" y2="461.0" stroke="#111" stroke-width="1.2"/>
<line x1="399.322" y1="458.8" x2="399.322" y2="463.2" stroke="#111" stroke-width="1.2"/>
<line x1="408.58279999999996" y1="458.8" x2="408.58279999999996" y2="463.2" stroke="#111" stroke-width="1.2"/>
<line x1="314.2" y1="409.5" x2="361.7" y2="409.5" stroke="#111" stroke-width="1.3"/>
<line x1="314.2" y1="439.6" x2="361.7" y2="439.6" stroke="#111" stroke-width="1.3"/>
<text x="338.0" y="398.7" font-size="10.8" text-anchor="middle" fill="#111">Liver</text>
<text x="336.8" y="427.8" font-size="10.8" text-anchor="middle" fill="#111">Spleen</text>
<text x="336.5" y="458.2" font-size="10.8" text-anchor="middle" fill="#111">Thymus</text>
<path d="M435.8,390.5 L443.8,390.5 L443.8,401.5 L406.5,401.5" fill="none" stroke="#111" stroke-width="1.2"/>
<path d="M448.40,391.05 L448.40,395.55 M446.18,391.57 L450.62,395.03 M446.18,395.03 L450.62,391.57 " stroke="#111" stroke-width="1.2" stroke-linecap="round" fill="none"/>
<path d="M448.40,397.05 L448.40,401.55 M446.18,397.57 L450.62,401.03 M446.18,401.03 L450.62,397.57 " stroke="#111" stroke-width="1.2" stroke-linecap="round" fill="none"/>
<path d="M392.5,419.9 L402.1,419.9 L402.1,431.5 L390.6,431.5" fill="none" stroke="#111" stroke-width="1.2"/>
<path d="M408.10,423.55 L408.10,428.05 M405.88,424.07 L410.32,427.53 M405.88,427.53 L410.32,424.07 " stroke="#111" stroke-width="1.2" stroke-linecap="round" fill="none"/>
<path d="M440.5,450.3 L445.1,450.3 L445.1,462.3 L414.6,462.3" fill="none" stroke="#111" stroke-width="1.2"/>
<path d="M451.10,453.65 L451.10,458.15 M448.88,454.17 L453.32,457.63 M448.88,457.63 L453.32,454.17 " stroke="#111" stroke-width="1.2" stroke-linecap="round" fill="none"/>
<text x="408.3" y="487.5" font-size="10.9" text-anchor="middle" fill="#111">CD18 Mean Expression (x10<tspan font-size="6.5" dy="-4">3</tspan><tspan dy="4">)</tspan></text>
<line x1="334.7" y1="489.4" x2="482.0" y2="489.4" stroke="#111" stroke-width="1.1"/>
<line x1="361.4" y1="503.5" x2="449.0" y2="503.5" stroke="#111" stroke-width="1.2"/>
<line x1="361.4" y1="503.5" x2="361.4" y2="501.5" stroke="#111" stroke-width="1.1"/>
<text x="361.3" y="500.0" font-size="10.8" text-anchor="middle" fill="#111">0</text>
<line x1="378.91999999999996" y1="503.5" x2="378.91999999999996" y2="501.5" stroke="#111" stroke-width="1.1"/>
<text x="376.6" y="500.0" font-size="10.8" text-anchor="middle" fill="#111">1</text>
<line x1="396.44" y1="503.5" x2="396.44" y2="501.5" stroke="#111" stroke-width="1.1"/>
<text x="394.6" y="500.0" font-size="10.8" text-anchor="middle" fill="#111">2</text>
<line x1="413.96" y1="503.5" x2="413.96" y2="501.5" stroke="#111" stroke-width="1.1"/>
<text x="412.5" y="500.0" font-size="10.8" text-anchor="middle" fill="#111">3</text>
<line x1="431.47999999999996" y1="503.5" x2="431.47999999999996" y2="501.5" stroke="#111" stroke-width="1.1"/>
<text x="431.0" y="500.0" font-size="10.8" text-anchor="middle" fill="#111">4</text>
<line x1="449.0" y1="503.5" x2="449.0" y2="501.5" stroke="#111" stroke-width="1.1"/>
<text x="448.8" y="500.0" font-size="10.8" text-anchor="middle" fill="#111">5</text>
<line x1="361.4" y1="503.5" x2="361.4" y2="589.5" stroke="#111" stroke-width="1.3"/>
<rect x="361.4" y="506.3" width="63.072" height="11.199999999999989" fill="#fff" stroke="#111" stroke-width="1.2"/>
<line x1="359.4" y1="511.9" x2="361.4" y2="511.9" stroke="#111" stroke-width="1.0"/>
<line x1="419.91679999999997" y1="511.9" x2="429.0272" y2="511.9" stroke="#111" stroke-width="1.2"/>
<line x1="419.91679999999997" y1="509.7" x2="419.91679999999997" y2="514.1" stroke="#111" stroke-width="1.2"/>
<line x1="429.0272" y1="509.7" x2="429.0272" y2="514.1" stroke="#111" stroke-width="1.2"/>
<rect x="361.4" y="517.5" width="39.244800000000005" height="11.0" fill="#929292" stroke="#111" stroke-width="1.2"/>
<line x1="359.4" y1="523.0" x2="361.4" y2="523.0" stroke="#111" stroke-width="1.0"/>
<line x1="397.14079999999996" y1="523.0" x2="404.1488" y2="523.0" stroke="#111" stroke-width="1.2"/>
<line x1="397.14079999999996" y1="520.8" x2="397.14079999999996" y2="525.2" stroke="#111" stroke-width="1.2"/>
<line x1="404.1488" y1="520.8" x2="404.1488" y2="525.2" stroke="#111" stroke-width="1.2"/>
<rect x="361.4" y="536.6" width="42.5736" height="11.0" fill="#fff" stroke="#111" stroke-width="1.2"/>
<line x1="359.4" y1="542.1" x2="361.4" y2="542.1" stroke="#111" stroke-width="1.0"/>
<line x1="400.46959999999996" y1="542.1" x2="407.4776" y2="542.1" stroke="#111" stroke-width="1.2"/>
<line x1="400.46959999999996" y1="539.9" x2="400.46959999999996" y2="544.3000000000001" stroke="#111" stroke-width="1.2"/>
<line x1="407.4776" y1="539.9" x2="407.4776" y2="544.3000000000001" stroke="#111" stroke-width="1.2"/>
<rect x="361.4" y="547.6" width="29.258399999999998" height="11.0" fill="#929292" stroke="#111" stroke-width="1.2"/>
<line x1="359.4" y1="553.1" x2="361.4" y2="553.1" stroke="#111" stroke-width="1.0"/>
<line x1="390.6584" y1="550.1" x2="390.6584" y2="556.1" stroke="#111" stroke-width="2.2"/>
<rect x="361.4" y="566.8" width="29.784" height="11.0" fill="#fff" stroke="#111" stroke-width="1.2"/>
<line x1="359.4" y1="572.3" x2="361.4" y2="572.3" stroke="#111" stroke-width="1.0"/>
<line x1="391.18399999999997" y1="569.3" x2="391.18399999999997" y2="575.3" stroke="#111" stroke-width="2.2"/>
<rect x="361.4" y="577.8" width="20.498399999999997" height="11.0" fill="#929292" stroke="#111" stroke-width="1.2"/>
<line x1="359.4" y1="583.3" x2="361.4" y2="583.3" stroke="#111" stroke-width="1.0"/>
<line x1="381.8984" y1="580.3" x2="381.8984" y2="586.3" stroke="#111" stroke-width="2.2"/>
<line x1="314.2" y1="532.7" x2="361.4" y2="532.7" stroke="#111" stroke-width="1.3"/>
<line x1="314.2" y1="562.8" x2="361.4" y2="562.8" stroke="#111" stroke-width="1.3"/>
<text x="337.8" y="520.8" font-size="10.8" text-anchor="middle" fill="#111">Liver</text>
<text x="336.9" y="549.8" font-size="10.8" text-anchor="middle" fill="#111">Spleen</text>
<text x="336.5" y="580.5" font-size="10.8" text-anchor="middle" fill="#111">Thymus</text>
<path d="M431.9,512.1 L439.6,512.1 L439.6,523.5 L411.7,523.5" fill="none" stroke="#111" stroke-width="1.2"/>
<path d="M445.40,516.05 L445.40,520.55 M443.18,516.57 L447.62,520.03 M443.18,520.03 L447.62,516.57 " stroke="#111" stroke-width="1.2" stroke-linecap="round" fill="none"/>
<path d="M408.8,542.2 L417.4,542.2 L417.4,553.5 L396.2,553.5" fill="none" stroke="#111" stroke-width="1.2"/>
<path d="M423.00,545.65 L423.00,550.15 M420.78,546.17 L425.22,549.63 M420.78,549.63 L425.22,546.17 " stroke="#111" stroke-width="1.2" stroke-linecap="round" fill="none"/>
<path d="M396.2,572.8 L406.2,572.8 L406.2,584.3 L389.6,584.3" fill="none" stroke="#111" stroke-width="1.2"/>
<path d="M410.60,570.75 L410.60,575.25 M408.38,571.27 L412.82,574.73 M408.38,574.73 L412.82,571.27 " stroke="#111" stroke-width="1.2" stroke-linecap="round" fill="none"/>
<path d="M410.60,576.35 L410.60,580.85 M408.38,576.87 L412.82,580.33 M408.38,580.33 L412.82,576.87 " stroke="#111" stroke-width="1.2" stroke-linecap="round" fill="none"/>
<path d="M410.60,581.95 L410.60,586.45 M408.38,582.47 L412.82,585.93 M408.38,585.93 L412.82,582.47 " stroke="#111" stroke-width="1.2" stroke-linecap="round" fill="none"/>
<rect x="434.2" y="568.9" width="17" height="6.9" fill="#fff" stroke="#111" stroke-width="1.2"/>
<rect x="434.2" y="582.9" width="17" height="6.9" fill="#929292" stroke="#111" stroke-width="1.2"/>
<text x="455.0" y="576.3" font-size="10.8" text-anchor="start" fill="#111">WT</text>
<text x="455.0" y="590.3" font-size="10.8" text-anchor="start" fill="#111">CPM</text>
</svg>
</body></html>
